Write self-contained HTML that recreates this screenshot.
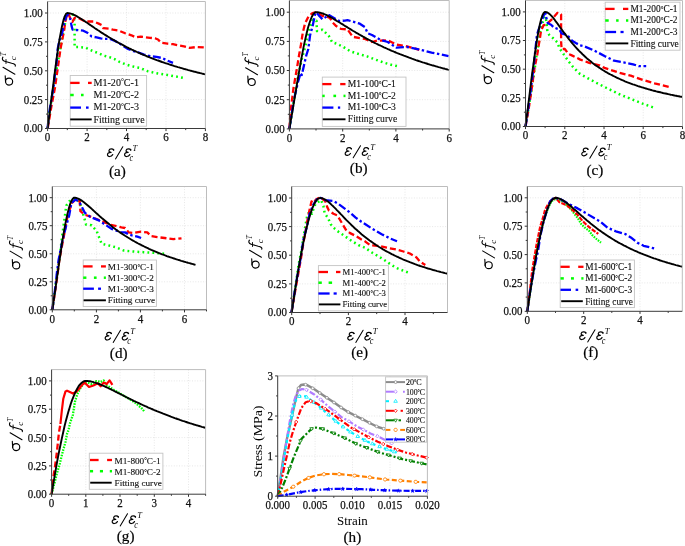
<!DOCTYPE html><html><head><meta charset="utf-8"><style>
html,body{margin:0;padding:0;background:#fff;}
svg{display:block;filter:blur(0.3px);}
text{font-family:"Liberation Serif",serif;fill:#000;}
.tl{font-size:11.9px;fill:#111;stroke:#111;stroke-width:0.25px;}
.pl{font-size:15.2px;stroke:#000;stroke-width:0.2px;}
.lab text{font-style:italic;}
.lt{fill:#111;stroke:#111;stroke-width:0.12px;}
.gd{stroke:#dcdcdc;stroke-width:0.7;stroke-dasharray:1 1.6;}
.fr{fill:none;stroke:#bdbdbd;stroke-width:1;}
.ax{fill:none;stroke:#3a3a3a;stroke-width:1;}
.tk{stroke:#333;stroke-width:1;}
.lg{fill:#fff;stroke:#c4c4c4;stroke-width:0.9;}
</style></head><body><svg width="685" height="546" viewBox="0 0 685 546"><line x1="87.1" y1="1.5" x2="87.1" y2="128.5" class="gd"/>
<line x1="126.5" y1="1.5" x2="126.5" y2="128.5" class="gd"/>
<line x1="166.0" y1="1.5" x2="166.0" y2="128.5" class="gd"/>
<line x1="47.6" y1="99.6" x2="205.4" y2="99.6" class="gd"/>
<line x1="47.6" y1="70.8" x2="205.4" y2="70.8" class="gd"/>
<line x1="47.6" y1="41.9" x2="205.4" y2="41.9" class="gd"/>
<line x1="47.6" y1="13.0" x2="205.4" y2="13.0" class="gd"/>
<polyline points="47.7,128.4 49.5,112.0 51.8,98.0 54.0,85.0 56.0,72.0 58.2,60.0 60.0,50.8 61.4,41.6 64.2,27.9 66.0,18.7 68.7,14.2 72.8,14.6 74.6,21.5 74.6,32.5 74.6,47.1 79.2,47.1 85.4,47.6 89.5,49.6 94.6,51.7 99.7,53.7 104.3,55.8 109.9,57.3 115.0,59.3 119.7,62.0 125.5,64.3 131.4,66.1 136.0,67.2 140.0,67.9 147.7,71.2 155.4,73.0 167.5,75.0 176.3,76.6 185.6,78.3" fill="none" stroke="#00ff00" stroke-width="2.5" stroke-dasharray="1.8 3.2" stroke-linejoin="round"/>
<polyline points="47.7,128.4 51.5,105.8 55.0,87.5 57.5,70.0 60.5,48.9 61.9,41.6 64.2,29.7 65.5,20.6 66.9,15.1 68.3,13.7 70.1,17.8 72.4,21.9 74.7,17.8 78.8,18.3 83.3,20.5 88.4,21.5 93.5,21.5 98.7,23.6 101.7,25.1 103.3,28.2 108.9,28.7 113.0,29.7 119.1,30.7 125.2,33.3 131.4,35.3 136.0,37.4 140.7,36.6 150.0,37.8 155.0,38.3 158.0,39.5 161.0,42.6 167.5,43.7 173.0,44.2 184.0,46.4 189.5,47.9 197.0,47.0 205.4,47.5" fill="none" stroke="#ff0000" stroke-width="2.3" stroke-dasharray="6 3" stroke-linejoin="round"/>
<polyline points="47.6,128.2 49.2,112.7 51.5,98.9 53.8,85.2 55.0,73.7 56.8,60.0 57.5,50.0 59.1,41.6 62.3,32.5 64.2,23.3 66.0,16.9 67.8,14.6 70.1,18.3 71.6,26.1 72.6,29.7 78.2,30.2 83.3,30.7 87.4,32.8 91.5,36.4 96.6,37.4 100.7,38.4 104.8,38.9 109.9,38.9 115.0,40.9 121.1,44.5 127.3,48.6 133.4,51.2 138.0,52.2 144.0,54.6 151.0,56.3 156.5,56.9 162.0,58.0 167.5,60.7 173.0,62.9" fill="none" stroke="#0000ff" stroke-width="2.3" stroke-dasharray="8 2.6 2.4 2.6" stroke-linejoin="round"/>
<polyline points="47.6,128.5 48.9,118.6 50.2,108.4 51.5,98.0 52.9,87.6 54.2,77.2 55.5,67.1 56.8,57.4 58.1,48.2 59.4,39.8 60.8,32.3 62.1,25.8 63.4,20.4 64.7,16.4 66.0,13.9 67.3,13.0 68.6,13.1 70.0,13.4 71.3,13.8 72.6,14.2 73.9,14.8 75.2,15.4 76.5,16.1 77.8,16.9 79.2,17.7 80.5,18.5 81.8,19.3 83.1,20.2 84.4,21.0 85.7,21.9 87.1,22.8 88.4,23.7 89.7,24.6 91.0,25.5 92.3,26.4 93.6,27.3 94.9,28.2 96.3,29.1 97.6,30.0 98.9,30.8 100.2,31.7 101.5,32.6 102.8,33.4 104.1,34.2 105.5,35.1 106.8,35.9 108.1,36.7 109.4,37.5 110.7,38.3 112.0,39.1 113.4,39.8 114.7,40.6 116.0,41.3 117.3,42.1 118.6,42.8 119.9,43.5 121.2,44.2 122.6,44.9 123.9,45.6 125.2,46.3 126.5,47.0 127.8,47.6 129.1,48.3 130.4,48.9 131.8,49.6 133.1,50.2 134.4,50.8 135.7,51.4 137.0,52.0 138.3,52.6 139.7,53.2 141.0,53.8 142.3,54.3 143.6,54.9 144.9,55.4 146.2,56.0 147.5,56.5 148.9,57.0 150.2,57.6 151.5,58.1 152.8,58.6 154.1,59.1 155.4,59.6 156.7,60.1 158.1,60.5 159.4,61.0 160.7,61.5 162.0,62.0 163.3,62.4 164.6,62.9 166.0,63.3 167.3,63.7 168.6,64.2 169.9,64.6 171.2,65.0 172.5,65.4 173.8,65.9 175.2,66.3 176.5,66.7 177.8,67.1 179.1,67.4 180.4,67.8 181.7,68.2 183.0,68.6 184.4,69.0 185.7,69.3 187.0,69.7 188.3,70.1 189.6,70.4 190.9,70.8 192.2,71.1 193.6,71.5 194.9,71.8 196.2,72.1 197.5,72.5 198.8,72.8 200.1,73.1 201.5,73.4 202.8,73.8 204.1,74.1 205.4,74.4" fill="none" stroke="#000000" stroke-width="1.9" stroke-linejoin="round"/>
<rect x="70.2" y="75.5" width="76.4" height="50.7" class="lg"/>
<line x1="70.2" y1="82.9" x2="79.6" y2="82.9" stroke="#ff0000" stroke-width="2.3"/>
<line x1="88.0" y1="82.9" x2="91.7" y2="82.9" stroke="#ff0000" stroke-width="2.3"/>
<text x="93.5" y="85.6" class="lt" font-size="10" textLength="45.5" lengthAdjust="spacingAndGlyphs">M1-20<tspan font-size="7.2" dy="-1.20">°</tspan><tspan dy="1.20">C-1</tspan></text>
<line x1="70.2" y1="95.0" x2="73.7" y2="95.0" stroke="#00ff00" stroke-width="2.5"/>
<line x1="81.0" y1="95.0" x2="83.6" y2="95.0" stroke="#00ff00" stroke-width="2.5"/>
<text x="93.5" y="98.0" class="lt" font-size="10" textLength="45.5" lengthAdjust="spacingAndGlyphs">M1-20<tspan font-size="7.2" dy="-1.20">°</tspan><tspan dy="1.20">C-2</tspan></text>
<line x1="70.2" y1="107.6" x2="81.0" y2="107.6" stroke="#0000ff" stroke-width="2.3"/>
<line x1="86.0" y1="107.6" x2="88.6" y2="107.6" stroke="#0000ff" stroke-width="2.3"/>
<text x="93.5" y="110.2" class="lt" font-size="10" textLength="45.5" lengthAdjust="spacingAndGlyphs">M1-20<tspan font-size="7.2" dy="-1.20">°</tspan><tspan dy="1.20">C-3</tspan></text>
<line x1="70.2" y1="119.4" x2="91.7" y2="119.4" stroke="#000000" stroke-width="1.9"/>
<text x="93.5" y="122.6" class="lt" font-size="10" textLength="51.2" lengthAdjust="spacingAndGlyphs">Fitting curve</text>
<path d="M47.6,1.5 H205.4 V128.5" class="fr"/>
<line x1="47.6" y1="128.5" x2="47.6" y2="131.1" class="tk"/>
<line x1="67.3" y1="128.5" x2="67.3" y2="130.1" class="tk"/>
<line x1="87.1" y1="128.5" x2="87.1" y2="131.1" class="tk"/>
<line x1="106.8" y1="128.5" x2="106.8" y2="130.1" class="tk"/>
<line x1="126.5" y1="128.5" x2="126.5" y2="131.1" class="tk"/>
<line x1="146.2" y1="128.5" x2="146.2" y2="130.1" class="tk"/>
<line x1="166.0" y1="128.5" x2="166.0" y2="131.1" class="tk"/>
<line x1="185.7" y1="128.5" x2="185.7" y2="130.1" class="tk"/>
<line x1="205.4" y1="128.5" x2="205.4" y2="131.1" class="tk"/>
<line x1="45.0" y1="128.5" x2="47.6" y2="128.5" class="tk"/>
<line x1="46.0" y1="114.1" x2="47.6" y2="114.1" class="tk"/>
<line x1="45.0" y1="99.6" x2="47.6" y2="99.6" class="tk"/>
<line x1="46.0" y1="85.2" x2="47.6" y2="85.2" class="tk"/>
<line x1="45.0" y1="70.8" x2="47.6" y2="70.8" class="tk"/>
<line x1="46.0" y1="56.3" x2="47.6" y2="56.3" class="tk"/>
<line x1="45.0" y1="41.9" x2="47.6" y2="41.9" class="tk"/>
<line x1="46.0" y1="27.5" x2="47.6" y2="27.5" class="tk"/>
<line x1="45.0" y1="13.0" x2="47.6" y2="13.0" class="tk"/>
<path d="M47.6,1.5 V128.5 H205.4" class="ax"/>
<text x="47.6" y="141.4" class="tl" text-anchor="middle" textLength="5.5" lengthAdjust="spacingAndGlyphs">0</text>
<text x="87.1" y="141.4" class="tl" text-anchor="middle" textLength="5.5" lengthAdjust="spacingAndGlyphs">2</text>
<text x="126.5" y="141.4" class="tl" text-anchor="middle" textLength="5.5" lengthAdjust="spacingAndGlyphs">4</text>
<text x="166.0" y="141.4" class="tl" text-anchor="middle" textLength="5.5" lengthAdjust="spacingAndGlyphs">6</text>
<text x="205.4" y="141.4" class="tl" text-anchor="middle" textLength="5.5" lengthAdjust="spacingAndGlyphs">8</text>
<text x="42.8" y="132.4" class="tl" text-anchor="end" textLength="19.1" lengthAdjust="spacingAndGlyphs">0.00</text>
<text x="42.8" y="103.5" class="tl" text-anchor="end" textLength="19.1" lengthAdjust="spacingAndGlyphs">0.25</text>
<text x="42.8" y="74.7" class="tl" text-anchor="end" textLength="19.1" lengthAdjust="spacingAndGlyphs">0.50</text>
<text x="42.8" y="45.8" class="tl" text-anchor="end" textLength="19.1" lengthAdjust="spacingAndGlyphs">0.75</text>
<text x="42.8" y="16.9" class="tl" text-anchor="end" textLength="19.1" lengthAdjust="spacingAndGlyphs">1.00</text>
<g class="lab"><path transform="translate(106.80,156.90)" d="M6.9,-7.0 C6.1,-8.4 2.7,-8.7 2.2,-6.6 C1.9,-5.2 3.0,-4.6 4.3,-4.6 M4.3,-4.6 C1.9,-4.7 0.4,-3.4 0.7,-1.7 C1.0,0.2 4.5,0.1 5.9,-2.3" fill="none" stroke="#000" stroke-width="1.2" stroke-linecap="round"/><circle cx="113.55" cy="149.90" r="0.75" fill="#000"/><line x1="115.50" y1="158.90" x2="122.80" y2="146.80" stroke="#000" stroke-width="1.05" stroke-linecap="round"/><path transform="translate(123.90,156.90)" d="M6.9,-7.0 C6.1,-8.4 2.7,-8.7 2.2,-6.6 C1.9,-5.2 3.0,-4.6 4.3,-4.6 M4.3,-4.6 C1.9,-4.7 0.4,-3.4 0.7,-1.7 C1.0,0.2 4.5,0.1 5.9,-2.3" fill="none" stroke="#000" stroke-width="1.2" stroke-linecap="round"/><circle cx="130.65" cy="149.90" r="0.75" fill="#000"/><g transform="translate(107.40,156.90)"><text transform="matrix(0.08202 0 0 0.10188 22.05 3.80)" font-size="100" font-style="italic">c</text><text transform="matrix(0.08367 0 0 0.07942 25.05 -6.30)" font-size="100" font-style="italic">T</text></g></g>
<g class="lab" transform="translate(12.90,85.50) rotate(-90)"><ellipse cx="3.9" cy="-3.8" rx="3.45" ry="3.55" fill="none" stroke="#000" stroke-width="1.15"/><path d="M3.6,-7.35 L9.8,-7.7" fill="none" stroke="#000" stroke-width="1.1" stroke-linecap="round"/><line x1="11.2" y1="2.0" x2="18.2" y2="-9.9" stroke="#000" stroke-width="1.05" stroke-linecap="round"/><path d="M19.4,2.3 C20.6,3.0 21.6,1.8 22.3,-1.2 L24.3,-8.3 C25.0,-10.6 26.6,-11.1 28.4,-10.0" fill="none" stroke="#000" stroke-width="1.1" stroke-linecap="round"/><path d="M21.6,-6.9 L26.4,-6.9" fill="none" stroke="#000" stroke-width="0.9"/><text transform="matrix(0.08948 0 0 0.08317 25.32 3.22)" font-size="100" font-style="italic">c</text><text transform="matrix(0.07275 0 0 0.08552 29.32 -7.20)" font-size="100" font-style="italic">T</text></g>
<text x="117.4" y="176.0" class="pl" text-anchor="middle">(a)</text>
<line x1="342.7" y1="0.5" x2="342.7" y2="128.9" class="gd"/>
<line x1="395.9" y1="0.5" x2="395.9" y2="128.9" class="gd"/>
<line x1="289.4" y1="99.7" x2="449.2" y2="99.7" class="gd"/>
<line x1="289.4" y1="70.5" x2="449.2" y2="70.5" class="gd"/>
<line x1="289.4" y1="41.4" x2="449.2" y2="41.4" class="gd"/>
<line x1="289.4" y1="12.2" x2="449.2" y2="12.2" class="gd"/>
<polyline points="289.4,128.6 293.0,106.0 297.0,82.0 301.5,60.0 305.1,47.1 307.4,37.0 309.7,27.9 312.9,19.7 316.5,20.6 317.0,31.1 322.5,29.7 328.9,36.1 332.1,42.1 337.1,43.9 343.5,47.1 350.4,51.3 358.1,53.8 367.0,56.4 375.5,59.6 382.6,62.2 391.3,64.8 399.2,66.6" fill="none" stroke="#00ff00" stroke-width="2.5" stroke-dasharray="1.8 3.2" stroke-linejoin="round"/>
<polyline points="289.4,128.6 290.5,112.0 293.5,88.0 297.2,66.7 299.1,55.0 301.0,44.4 302.8,32.5 305.1,23.3 308.7,16.0 312.4,13.2 315.6,12.3 318.8,13.7 322.5,16.0 326.1,16.4 329.8,17.8 332.5,22.4 336.2,26.1 340.8,28.8 347.5,29.4 352.8,36.8 365.0,38.9 372.0,42.0 377.3,40.6 387.8,40.3 396.6,44.7 405.3,45.9 414.1,48.2 419.3,49.9" fill="none" stroke="#ff0000" stroke-width="2.3" stroke-dasharray="6 3" stroke-linejoin="round"/>
<polyline points="289.4,128.6 292.0,112.0 295.0,95.0 298.0,82.0 300.6,73.0 301.8,75.0 303.0,69.7 304.5,63.0 306.4,55.0 308.3,49.0 310.1,35.2 312.4,27.0 313.8,20.6 315.1,14.2 316.5,12.3 319.3,16.0 322.5,19.2 326.1,16.9 328.9,15.1 333.5,17.8 339.0,21.0 345.0,20.6 347.5,20.1 359.8,23.7 365.0,27.2 367.7,33.3 372.0,35.0 380.8,40.0 387.8,42.0 396.6,47.7 407.1,47.0 417.6,49.1 431.6,52.6 448.6,56.1" fill="none" stroke="#0000ff" stroke-width="2.3" stroke-dasharray="8 2.6 2.4 2.6" stroke-linejoin="round"/>
<polyline points="289.4,128.9 290.7,121.2 292.1,113.3 293.4,105.4 294.7,97.3 296.1,89.3 297.4,81.4 298.7,73.6 300.1,66.0 301.4,58.6 302.7,51.6 304.0,44.9 305.4,38.7 306.7,33.0 308.0,27.8 309.4,23.3 310.7,19.5 312.0,16.4 313.4,14.1 314.7,12.7 316.0,12.2 317.4,12.2 318.7,12.4 320.0,12.7 321.4,13.1 322.7,13.5 324.0,14.0 325.4,14.6 326.7,15.2 328.0,15.9 329.3,16.6 330.7,17.3 332.0,18.0 333.3,18.8 334.7,19.6 336.0,20.4 337.3,21.2 338.7,22.0 340.0,22.8 341.3,23.6 342.7,24.4 344.0,25.3 345.3,26.1 346.7,26.9 348.0,27.7 349.3,28.5 350.7,29.4 352.0,30.2 353.3,31.0 354.7,31.8 356.0,32.6 357.3,33.3 358.6,34.1 360.0,34.9 361.3,35.6 362.6,36.4 364.0,37.1 365.3,37.9 366.6,38.6 368.0,39.3 369.3,40.0 370.6,40.7 372.0,41.4 373.3,42.1 374.6,42.8 376.0,43.5 377.3,44.1 378.6,44.8 380.0,45.4 381.3,46.0 382.6,46.7 383.9,47.3 385.3,47.9 386.6,48.5 387.9,49.1 389.3,49.7 390.6,50.3 391.9,50.9 393.3,51.4 394.6,52.0 395.9,52.5 397.3,53.1 398.6,53.6 399.9,54.2 401.3,54.7 402.6,55.2 403.9,55.7 405.3,56.2 406.6,56.7 407.9,57.2 409.2,57.7 410.6,58.2 411.9,58.7 413.2,59.1 414.6,59.6 415.9,60.1 417.2,60.5 418.6,61.0 419.9,61.4 421.2,61.8 422.6,62.3 423.9,62.7 425.2,63.1 426.6,63.5 427.9,64.0 429.2,64.4 430.6,64.8 431.9,65.2 433.2,65.5 434.6,65.9 435.9,66.3 437.2,66.7 438.5,67.1 439.9,67.4 441.2,67.8 442.5,68.2 443.9,68.5 445.2,68.9 446.5,69.2 447.9,69.6 449.2,69.9" fill="none" stroke="#000000" stroke-width="1.9" stroke-linejoin="round"/>
<rect x="322.3" y="77.1" width="83.7" height="49.3" class="lg"/>
<line x1="322.3" y1="84.1" x2="331.4" y2="84.1" stroke="#ff0000" stroke-width="2.3"/>
<line x1="340.2" y1="84.1" x2="345.5" y2="84.1" stroke="#ff0000" stroke-width="2.3"/>
<text x="347.8" y="87.0" class="lt" font-size="9.6" textLength="48.1" lengthAdjust="spacingAndGlyphs">M1-100<tspan font-size="6.9" dy="-1.15">°</tspan><tspan dy="1.15">C-1</tspan></text>
<line x1="322.3" y1="95.9" x2="324.7" y2="95.9" stroke="#00ff00" stroke-width="2.5"/>
<line x1="333.4" y1="95.9" x2="336.1" y2="95.9" stroke="#00ff00" stroke-width="2.5"/>
<line x1="343.5" y1="95.9" x2="345.5" y2="95.9" stroke="#00ff00" stroke-width="2.5"/>
<text x="347.8" y="98.5" class="lt" font-size="9.6" textLength="48.1" lengthAdjust="spacingAndGlyphs">M1-100<tspan font-size="6.9" dy="-1.15">°</tspan><tspan dy="1.15">C-2</tspan></text>
<line x1="322.3" y1="107.6" x2="333.4" y2="107.6" stroke="#0000ff" stroke-width="2.3"/>
<line x1="337.9" y1="107.6" x2="340.2" y2="107.6" stroke="#0000ff" stroke-width="2.3"/>
<text x="347.8" y="110.3" class="lt" font-size="9.6" textLength="48.1" lengthAdjust="spacingAndGlyphs">M1-100<tspan font-size="6.9" dy="-1.15">°</tspan><tspan dy="1.15">C-3</tspan></text>
<line x1="322.7" y1="119.3" x2="345.5" y2="119.3" stroke="#000000" stroke-width="1.9"/>
<text x="347.8" y="122.4" class="lt" font-size="9.6" textLength="49.4" lengthAdjust="spacingAndGlyphs">Fitting curve</text>
<path d="M289.4,0.5 H449.2 V128.9" class="fr"/>
<line x1="289.4" y1="128.9" x2="289.4" y2="131.5" class="tk"/>
<line x1="316.0" y1="128.9" x2="316.0" y2="130.5" class="tk"/>
<line x1="342.7" y1="128.9" x2="342.7" y2="131.5" class="tk"/>
<line x1="369.3" y1="128.9" x2="369.3" y2="130.5" class="tk"/>
<line x1="395.9" y1="128.9" x2="395.9" y2="131.5" class="tk"/>
<line x1="422.6" y1="128.9" x2="422.6" y2="130.5" class="tk"/>
<line x1="449.2" y1="128.9" x2="449.2" y2="131.5" class="tk"/>
<line x1="286.8" y1="128.9" x2="289.4" y2="128.9" class="tk"/>
<line x1="287.8" y1="114.3" x2="289.4" y2="114.3" class="tk"/>
<line x1="286.8" y1="99.7" x2="289.4" y2="99.7" class="tk"/>
<line x1="287.8" y1="85.1" x2="289.4" y2="85.1" class="tk"/>
<line x1="286.8" y1="70.5" x2="289.4" y2="70.5" class="tk"/>
<line x1="287.8" y1="55.9" x2="289.4" y2="55.9" class="tk"/>
<line x1="286.8" y1="41.4" x2="289.4" y2="41.4" class="tk"/>
<line x1="287.8" y1="26.8" x2="289.4" y2="26.8" class="tk"/>
<line x1="286.8" y1="12.2" x2="289.4" y2="12.2" class="tk"/>
<path d="M289.4,0.5 V128.9 H449.2" class="ax"/>
<text x="289.4" y="141.8" class="tl" text-anchor="middle" textLength="5.5" lengthAdjust="spacingAndGlyphs">0</text>
<text x="342.7" y="141.8" class="tl" text-anchor="middle" textLength="5.5" lengthAdjust="spacingAndGlyphs">2</text>
<text x="395.9" y="141.8" class="tl" text-anchor="middle" textLength="5.5" lengthAdjust="spacingAndGlyphs">4</text>
<text x="449.2" y="141.8" class="tl" text-anchor="middle" textLength="5.5" lengthAdjust="spacingAndGlyphs">6</text>
<text x="284.6" y="132.8" class="tl" text-anchor="end" textLength="19.1" lengthAdjust="spacingAndGlyphs">0.00</text>
<text x="284.6" y="103.6" class="tl" text-anchor="end" textLength="19.1" lengthAdjust="spacingAndGlyphs">0.25</text>
<text x="284.6" y="74.4" class="tl" text-anchor="end" textLength="19.1" lengthAdjust="spacingAndGlyphs">0.50</text>
<text x="284.6" y="45.3" class="tl" text-anchor="end" textLength="19.1" lengthAdjust="spacingAndGlyphs">0.75</text>
<text x="284.6" y="16.1" class="tl" text-anchor="end" textLength="19.1" lengthAdjust="spacingAndGlyphs">1.00</text>
<g class="lab"><path transform="translate(344.50,155.80)" d="M6.9,-7.0 C6.1,-8.4 2.7,-8.7 2.2,-6.6 C1.9,-5.2 3.0,-4.6 4.3,-4.6 M4.3,-4.6 C1.9,-4.7 0.4,-3.4 0.7,-1.7 C1.0,0.2 4.5,0.1 5.9,-2.3" fill="none" stroke="#000" stroke-width="1.2" stroke-linecap="round"/><circle cx="351.25" cy="148.80" r="0.75" fill="#000"/><line x1="353.20" y1="157.80" x2="360.50" y2="145.70" stroke="#000" stroke-width="1.05" stroke-linecap="round"/><path transform="translate(361.60,155.80)" d="M6.9,-7.0 C6.1,-8.4 2.7,-8.7 2.2,-6.6 C1.9,-5.2 3.0,-4.6 4.3,-4.6 M4.3,-4.6 C1.9,-4.7 0.4,-3.4 0.7,-1.7 C1.0,0.2 4.5,0.1 5.9,-2.3" fill="none" stroke="#000" stroke-width="1.2" stroke-linecap="round"/><circle cx="368.35" cy="148.80" r="0.75" fill="#000"/><g transform="translate(345.10,155.80)"><text transform="matrix(0.08202 0 0 0.10188 22.05 3.80)" font-size="100" font-style="italic">c</text><text transform="matrix(0.08367 0 0 0.07942 25.05 -6.30)" font-size="100" font-style="italic">T</text></g></g>
<g class="lab" transform="translate(255.50,85.90) rotate(-90)"><ellipse cx="3.9" cy="-3.8" rx="3.45" ry="3.55" fill="none" stroke="#000" stroke-width="1.15"/><path d="M3.6,-7.35 L9.8,-7.7" fill="none" stroke="#000" stroke-width="1.1" stroke-linecap="round"/><line x1="11.2" y1="2.0" x2="18.2" y2="-9.9" stroke="#000" stroke-width="1.05" stroke-linecap="round"/><path d="M19.4,2.3 C20.6,3.0 21.6,1.8 22.3,-1.2 L24.3,-8.3 C25.0,-10.6 26.6,-11.1 28.4,-10.0" fill="none" stroke="#000" stroke-width="1.1" stroke-linecap="round"/><path d="M21.6,-6.9 L26.4,-6.9" fill="none" stroke="#000" stroke-width="0.9"/><text transform="matrix(0.08948 0 0 0.08317 25.32 3.22)" font-size="100" font-style="italic">c</text><text transform="matrix(0.07275 0 0 0.08552 29.32 -7.20)" font-size="100" font-style="italic">T</text></g>
<text x="358.7" y="173.4" class="pl" text-anchor="middle">(b)</text>
<line x1="564.8" y1="0.4" x2="564.8" y2="126.5" class="gd"/>
<line x1="604.0" y1="0.4" x2="604.0" y2="126.5" class="gd"/>
<line x1="643.2" y1="0.4" x2="643.2" y2="126.5" class="gd"/>
<line x1="525.5" y1="97.8" x2="682.5" y2="97.8" class="gd"/>
<line x1="525.5" y1="69.2" x2="682.5" y2="69.2" class="gd"/>
<line x1="525.5" y1="40.5" x2="682.5" y2="40.5" class="gd"/>
<line x1="525.5" y1="11.9" x2="682.5" y2="11.9" class="gd"/>
<polyline points="525.5,126.5 528.5,108.0 531.5,90.0 534.5,70.0 536.9,52.6 538.7,43.5 540.5,29.3 543.5,20.0 545.5,16.5 546.5,22.4 547.4,31.6 549.2,34.8 552.9,38.0 557.5,42.5 559.3,48.0 562.5,52.6 568.7,61.5 573.8,67.9 580.0,74.0 595.0,82.1 604.5,86.9 618.8,94.0 630.7,98.8 642.6,103.6 655.7,108.3" fill="none" stroke="#00ff00" stroke-width="2.5" stroke-dasharray="1.8 3.2" stroke-linejoin="round"/>
<polyline points="525.5,126.5 528.5,110.0 531.5,90.0 534.5,68.0 537.3,54.5 538.7,45.3 540.1,37.0 541.0,30.6 543.7,25.1 546.0,24.7 551.5,19.7 554.7,16.0 557.5,12.8 561.1,14.2 561.1,24.2 561.1,41.6 561.6,49.0 564.8,49.0 568.5,54.0 571.3,55.1 580.3,59.6 589.2,62.8 599.5,65.4 604.5,67.9 618.8,72.6 630.7,75.7 642.6,79.8 654.5,83.3 668.8,86.9" fill="none" stroke="#ff0000" stroke-width="2.3" stroke-dasharray="6 3" stroke-linejoin="round"/>
<polyline points="525.5,126.5 528.0,110.0 531.0,88.0 533.5,68.0 535.0,53.5 536.9,35.2 538.7,29.3 541.0,23.3 543.7,15.1 545.6,13.2 546.5,18.7 547.9,23.3 551.1,24.7 553.8,27.4 557.5,28.8 559.3,29.3 561.6,33.4 564.8,34.3 568.5,36.6 572.1,40.7 575.8,43.0 580.0,45.3 584.1,46.2 594.4,50.6 604.5,56.0 614.0,60.7 623.6,62.4 633.1,64.3 639.0,66.2 646.2,66.2" fill="none" stroke="#0000ff" stroke-width="2.3" stroke-dasharray="8 2.6 2.4 2.6" stroke-linejoin="round"/>
<polyline points="525.5,126.5 526.8,116.4 528.1,106.0 529.4,95.5 530.7,85.0 532.0,74.7 533.4,64.7 534.7,55.1 536.0,46.1 537.3,37.9 538.6,30.5 539.9,24.2 541.2,19.0 542.5,15.1 543.8,12.7 545.1,11.9 546.4,12.1 547.7,12.7 549.0,13.6 550.4,14.8 551.7,16.2 553.0,17.7 554.3,19.3 555.6,21.1 556.9,22.8 558.2,24.6 559.5,26.5 560.8,28.3 562.1,30.1 563.4,31.9 564.8,33.7 566.1,35.4 567.4,37.1 568.7,38.8 570.0,40.5 571.3,42.1 572.6,43.7 573.9,45.2 575.2,46.7 576.5,48.1 577.8,49.5 579.1,50.9 580.5,52.2 581.8,53.5 583.1,54.8 584.4,56.0 585.7,57.2 587.0,58.4 588.3,59.5 589.6,60.6 590.9,61.6 592.2,62.7 593.5,63.7 594.8,64.7 596.1,65.6 597.5,66.5 598.8,67.4 600.1,68.3 601.4,69.1 602.7,70.0 604.0,70.8 605.3,71.6 606.6,72.3 607.9,73.1 609.2,73.8 610.5,74.5 611.9,75.2 613.2,75.9 614.5,76.5 615.8,77.2 617.1,77.8 618.4,78.4 619.7,79.0 621.0,79.6 622.3,80.2 623.6,80.7 624.9,81.3 626.2,81.8 627.5,82.3 628.9,82.8 630.2,83.3 631.5,83.8 632.8,84.3 634.1,84.7 635.4,85.2 636.7,85.6 638.0,86.1 639.3,86.5 640.6,86.9 641.9,87.3 643.2,87.7 644.6,88.1 645.9,88.5 647.2,88.9 648.5,89.3 649.8,89.6 651.1,90.0 652.4,90.4 653.7,90.7 655.0,91.0 656.3,91.4 657.6,91.7 659.0,92.0 660.3,92.3 661.6,92.6 662.9,93.0 664.2,93.3 665.5,93.5 666.8,93.8 668.1,94.1 669.4,94.4 670.7,94.7 672.0,94.9 673.3,95.2 674.6,95.5 676.0,95.7 677.3,96.0 678.6,96.2 679.9,96.5 681.2,96.7 682.5,96.9" fill="none" stroke="#000000" stroke-width="1.9" stroke-linejoin="round"/>
<rect x="605.2" y="2.2" width="74.8" height="48.0" class="lg"/>
<line x1="605.2" y1="8.9" x2="614.6" y2="8.9" stroke="#ff0000" stroke-width="2.3"/>
<line x1="623.0" y1="8.9" x2="628.3" y2="8.9" stroke="#ff0000" stroke-width="2.3"/>
<text x="630.4" y="12.0" class="lt" font-size="9.4" textLength="47.1" lengthAdjust="spacingAndGlyphs">M1-200<tspan font-size="6.8" dy="-1.13">°</tspan><tspan dy="1.13">C-1</tspan></text>
<line x1="605.2" y1="20.5" x2="608.7" y2="20.5" stroke="#00ff00" stroke-width="2.5"/>
<line x1="616.1" y1="20.5" x2="618.6" y2="20.5" stroke="#00ff00" stroke-width="2.5"/>
<line x1="626.0" y1="20.5" x2="628.3" y2="20.5" stroke="#00ff00" stroke-width="2.5"/>
<text x="630.4" y="23.2" class="lt" font-size="9.4" textLength="47.1" lengthAdjust="spacingAndGlyphs">M1-200<tspan font-size="6.8" dy="-1.13">°</tspan><tspan dy="1.13">C-2</tspan></text>
<line x1="605.2" y1="32.0" x2="616.1" y2="32.0" stroke="#0000ff" stroke-width="2.3"/>
<line x1="620.5" y1="32.0" x2="623.6" y2="32.0" stroke="#0000ff" stroke-width="2.3"/>
<text x="630.4" y="34.7" class="lt" font-size="9.4" textLength="47.1" lengthAdjust="spacingAndGlyphs">M1-200<tspan font-size="6.8" dy="-1.13">°</tspan><tspan dy="1.13">C-3</tspan></text>
<line x1="605.6" y1="43.4" x2="628.3" y2="43.4" stroke="#000000" stroke-width="1.9"/>
<text x="630.4" y="46.5" class="lt" font-size="9.4" textLength="48.4" lengthAdjust="spacingAndGlyphs">Fitting curve</text>
<path d="M525.5,0.4 H682.5 V126.5" class="fr"/>
<line x1="525.5" y1="126.5" x2="525.5" y2="129.1" class="tk"/>
<line x1="545.1" y1="126.5" x2="545.1" y2="128.1" class="tk"/>
<line x1="564.8" y1="126.5" x2="564.8" y2="129.1" class="tk"/>
<line x1="584.4" y1="126.5" x2="584.4" y2="128.1" class="tk"/>
<line x1="604.0" y1="126.5" x2="604.0" y2="129.1" class="tk"/>
<line x1="623.6" y1="126.5" x2="623.6" y2="128.1" class="tk"/>
<line x1="643.2" y1="126.5" x2="643.2" y2="129.1" class="tk"/>
<line x1="662.9" y1="126.5" x2="662.9" y2="128.1" class="tk"/>
<line x1="682.5" y1="126.5" x2="682.5" y2="129.1" class="tk"/>
<line x1="522.9" y1="126.5" x2="525.5" y2="126.5" class="tk"/>
<line x1="523.9" y1="112.2" x2="525.5" y2="112.2" class="tk"/>
<line x1="522.9" y1="97.8" x2="525.5" y2="97.8" class="tk"/>
<line x1="523.9" y1="83.5" x2="525.5" y2="83.5" class="tk"/>
<line x1="522.9" y1="69.2" x2="525.5" y2="69.2" class="tk"/>
<line x1="523.9" y1="54.9" x2="525.5" y2="54.9" class="tk"/>
<line x1="522.9" y1="40.5" x2="525.5" y2="40.5" class="tk"/>
<line x1="523.9" y1="26.2" x2="525.5" y2="26.2" class="tk"/>
<line x1="522.9" y1="11.9" x2="525.5" y2="11.9" class="tk"/>
<path d="M525.5,0.4 V126.5 H682.5" class="ax"/>
<text x="525.5" y="139.4" class="tl" text-anchor="middle" textLength="5.5" lengthAdjust="spacingAndGlyphs">0</text>
<text x="564.8" y="139.4" class="tl" text-anchor="middle" textLength="5.5" lengthAdjust="spacingAndGlyphs">2</text>
<text x="604.0" y="139.4" class="tl" text-anchor="middle" textLength="5.5" lengthAdjust="spacingAndGlyphs">4</text>
<text x="643.2" y="139.4" class="tl" text-anchor="middle" textLength="5.5" lengthAdjust="spacingAndGlyphs">6</text>
<text x="682.5" y="139.4" class="tl" text-anchor="middle" textLength="5.5" lengthAdjust="spacingAndGlyphs">8</text>
<text x="520.7" y="130.4" class="tl" text-anchor="end" textLength="19.1" lengthAdjust="spacingAndGlyphs">0.00</text>
<text x="520.7" y="101.7" class="tl" text-anchor="end" textLength="19.1" lengthAdjust="spacingAndGlyphs">0.25</text>
<text x="520.7" y="73.1" class="tl" text-anchor="end" textLength="19.1" lengthAdjust="spacingAndGlyphs">0.50</text>
<text x="520.7" y="44.4" class="tl" text-anchor="end" textLength="19.1" lengthAdjust="spacingAndGlyphs">0.75</text>
<text x="520.7" y="15.8" class="tl" text-anchor="end" textLength="19.1" lengthAdjust="spacingAndGlyphs">1.00</text>
<g class="lab"><path transform="translate(581.10,156.20)" d="M6.9,-7.0 C6.1,-8.4 2.7,-8.7 2.2,-6.6 C1.9,-5.2 3.0,-4.6 4.3,-4.6 M4.3,-4.6 C1.9,-4.7 0.4,-3.4 0.7,-1.7 C1.0,0.2 4.5,0.1 5.9,-2.3" fill="none" stroke="#000" stroke-width="1.2" stroke-linecap="round"/><circle cx="587.85" cy="149.20" r="0.75" fill="#000"/><line x1="589.80" y1="158.20" x2="597.10" y2="146.10" stroke="#000" stroke-width="1.05" stroke-linecap="round"/><path transform="translate(598.20,156.20)" d="M6.9,-7.0 C6.1,-8.4 2.7,-8.7 2.2,-6.6 C1.9,-5.2 3.0,-4.6 4.3,-4.6 M4.3,-4.6 C1.9,-4.7 0.4,-3.4 0.7,-1.7 C1.0,0.2 4.5,0.1 5.9,-2.3" fill="none" stroke="#000" stroke-width="1.2" stroke-linecap="round"/><circle cx="604.95" cy="149.20" r="0.75" fill="#000"/><g transform="translate(581.70,156.20)"><text transform="matrix(0.08202 0 0 0.10188 22.05 3.80)" font-size="100" font-style="italic">c</text><text transform="matrix(0.08367 0 0 0.07942 25.05 -6.30)" font-size="100" font-style="italic">T</text></g></g>
<g class="lab" transform="translate(491.80,84.00) rotate(-90)"><ellipse cx="3.9" cy="-3.8" rx="3.45" ry="3.55" fill="none" stroke="#000" stroke-width="1.15"/><path d="M3.6,-7.35 L9.8,-7.7" fill="none" stroke="#000" stroke-width="1.1" stroke-linecap="round"/><line x1="11.2" y1="2.0" x2="18.2" y2="-9.9" stroke="#000" stroke-width="1.05" stroke-linecap="round"/><path d="M19.4,2.3 C20.6,3.0 21.6,1.8 22.3,-1.2 L24.3,-8.3 C25.0,-10.6 26.6,-11.1 28.4,-10.0" fill="none" stroke="#000" stroke-width="1.1" stroke-linecap="round"/><path d="M21.6,-6.9 L26.4,-6.9" fill="none" stroke="#000" stroke-width="0.9"/><text transform="matrix(0.08948 0 0 0.08317 25.32 3.22)" font-size="100" font-style="italic">c</text><text transform="matrix(0.07275 0 0 0.08552 29.32 -7.20)" font-size="100" font-style="italic">T</text></g>
<text x="595.0" y="174.6" class="pl" text-anchor="middle">(c)</text>
<line x1="96.4" y1="186.5" x2="96.4" y2="309.8" class="gd"/>
<line x1="140.4" y1="186.5" x2="140.4" y2="309.8" class="gd"/>
<line x1="184.5" y1="186.5" x2="184.5" y2="309.8" class="gd"/>
<line x1="52.3" y1="281.8" x2="206.5" y2="281.8" class="gd"/>
<line x1="52.3" y1="253.8" x2="206.5" y2="253.8" class="gd"/>
<line x1="52.3" y1="225.7" x2="206.5" y2="225.7" class="gd"/>
<line x1="52.3" y1="197.7" x2="206.5" y2="197.7" class="gd"/>
<polyline points="52.3,309.8 55.0,290.0 57.5,272.0 59.3,260.0 62.1,236.6 64.2,221.1 66.3,205.6 69.2,201.3 76.2,198.5 79.7,202.7 84.0,216.9 86.1,224.6 91.7,225.3 96.7,231.0 98.8,236.6 101.6,243.7 107.2,245.1 115.7,247.2 124.2,250.7 134.9,251.6 143.6,252.2 153.5,252.8 164.1,253.7" fill="none" stroke="#00ff00" stroke-width="2.5" stroke-dasharray="1.8 3.2" stroke-linejoin="round"/>
<polyline points="52.3,309.8 55.0,292.0 57.5,275.0 59.3,260.0 63.5,238.0 67.7,215.4 72.0,202.7 76.2,199.2 79.7,201.3 80.4,211.2 84.7,214.7 93.1,217.6 101.6,221.1 110.1,224.6 121.4,227.4 125.0,228.0 128.7,232.4 133.7,233.0 141.1,231.7 147.3,232.4 151.1,236.1 157.3,237.1 164.7,238.0 173.4,239.2 181.5,238.3" fill="none" stroke="#ff0000" stroke-width="2.3" stroke-dasharray="6 3" stroke-linejoin="round"/>
<polyline points="52.3,309.8 55.0,290.0 57.0,272.0 58.6,260.0 62.1,242.2 66.3,225.3 69.2,215.4 71.3,203.5 75.5,199.2 79.7,202.7 84.7,212.6 90.3,216.9 98.8,220.4 111.5,228.8 121.4,232.4 125.0,232.4 130.0,234.9 137.4,236.7 141.1,238.0" fill="none" stroke="#0000ff" stroke-width="2.3" stroke-dasharray="8 2.6 2.4 2.6" stroke-linejoin="round"/>
<polyline points="52.3,309.8 53.5,301.8 54.7,293.6 55.9,285.3 57.1,276.9 58.3,268.6 59.5,260.4 60.7,252.4 61.8,244.6 63.0,237.2 64.2,230.2 65.4,223.7 66.6,217.7 67.8,212.4 69.0,207.7 70.2,203.9 71.4,200.9 72.6,198.9 73.8,197.8 75.0,197.7 76.2,197.9 77.4,198.3 78.6,198.8 79.7,199.4 80.9,200.1 82.1,200.9 83.3,201.8 84.5,202.7 85.7,203.7 86.9,204.7 88.1,205.7 89.3,206.8 90.5,207.8 91.7,208.9 92.9,210.0 94.1,211.1 95.3,212.2 96.4,213.3 97.6,214.3 98.8,215.4 100.0,216.5 101.2,217.5 102.4,218.6 103.6,219.6 104.8,220.6 106.0,221.6 107.2,222.6 108.4,223.6 109.6,224.6 110.8,225.5 112.0,226.4 113.2,227.4 114.3,228.3 115.5,229.2 116.7,230.0 117.9,230.9 119.1,231.8 120.3,232.6 121.5,233.4 122.7,234.2 123.9,235.0 125.1,235.8 126.3,236.5 127.5,237.3 128.7,238.0 129.9,238.7 131.1,239.5 132.2,240.2 133.4,240.8 134.6,241.5 135.8,242.2 137.0,242.8 138.2,243.5 139.4,244.1 140.6,244.7 141.8,245.3 143.0,245.9 144.2,246.5 145.4,247.1 146.6,247.7 147.8,248.2 149.0,248.8 150.1,249.3 151.3,249.9 152.5,250.4 153.7,250.9 154.9,251.4 156.1,251.9 157.3,252.4 158.5,252.9 159.7,253.3 160.9,253.8 162.1,254.3 163.3,254.7 164.5,255.2 165.7,255.6 166.8,256.1 168.0,256.5 169.2,256.9 170.4,257.3 171.6,257.7 172.8,258.1 174.0,258.5 175.2,258.9 176.4,259.3 177.6,259.7 178.8,260.0 180.0,260.4 181.2,260.8 182.4,261.1 183.6,261.5 184.7,261.8 185.9,262.2 187.1,262.5 188.3,262.9 189.5,263.2 190.7,263.5 191.9,263.8 193.1,264.1 194.3,264.5 195.5,264.8" fill="none" stroke="#000000" stroke-width="1.9" stroke-linejoin="round"/>
<rect x="83.2" y="260.0" width="73.2" height="46.5" class="lg"/>
<line x1="83.2" y1="266.4" x2="92.6" y2="266.4" stroke="#ff0000" stroke-width="2.3"/>
<line x1="101.0" y1="266.4" x2="105.9" y2="266.4" stroke="#ff0000" stroke-width="2.3"/>
<text x="107.8" y="269.9" class="lt" font-size="9.2" textLength="46.1" lengthAdjust="spacingAndGlyphs">M1-300<tspan font-size="6.6" dy="-1.10">°</tspan><tspan dy="1.10">C-1</tspan></text>
<line x1="83.2" y1="277.7" x2="86.4" y2="277.7" stroke="#00ff00" stroke-width="2.5"/>
<line x1="93.9" y1="277.7" x2="96.6" y2="277.7" stroke="#00ff00" stroke-width="2.5"/>
<line x1="103.8" y1="277.7" x2="105.9" y2="277.7" stroke="#00ff00" stroke-width="2.5"/>
<text x="107.8" y="280.7" class="lt" font-size="9.2" textLength="46.1" lengthAdjust="spacingAndGlyphs">M1-300<tspan font-size="6.6" dy="-1.10">°</tspan><tspan dy="1.10">C-2</tspan></text>
<line x1="83.2" y1="288.7" x2="93.9" y2="288.7" stroke="#0000ff" stroke-width="2.3"/>
<line x1="98.1" y1="288.7" x2="101.0" y2="288.7" stroke="#0000ff" stroke-width="2.3"/>
<text x="107.8" y="291.8" class="lt" font-size="9.2" textLength="46.1" lengthAdjust="spacingAndGlyphs">M1-300<tspan font-size="6.6" dy="-1.10">°</tspan><tspan dy="1.10">C-3</tspan></text>
<line x1="83.6" y1="300.3" x2="105.9" y2="300.3" stroke="#000000" stroke-width="1.9"/>
<text x="107.8" y="302.8" class="lt" font-size="9.2" textLength="47.4" lengthAdjust="spacingAndGlyphs">Fitting curve</text>
<path d="M52.3,186.5 H206.5 V309.8" class="fr"/>
<line x1="52.3" y1="309.8" x2="52.3" y2="312.4" class="tk"/>
<line x1="74.3" y1="309.8" x2="74.3" y2="311.4" class="tk"/>
<line x1="96.4" y1="309.8" x2="96.4" y2="312.4" class="tk"/>
<line x1="118.4" y1="309.8" x2="118.4" y2="311.4" class="tk"/>
<line x1="140.4" y1="309.8" x2="140.4" y2="312.4" class="tk"/>
<line x1="162.4" y1="309.8" x2="162.4" y2="311.4" class="tk"/>
<line x1="184.5" y1="309.8" x2="184.5" y2="312.4" class="tk"/>
<line x1="206.5" y1="309.8" x2="206.5" y2="311.4" class="tk"/>
<line x1="49.7" y1="309.8" x2="52.3" y2="309.8" class="tk"/>
<line x1="50.7" y1="295.8" x2="52.3" y2="295.8" class="tk"/>
<line x1="49.7" y1="281.8" x2="52.3" y2="281.8" class="tk"/>
<line x1="50.7" y1="267.8" x2="52.3" y2="267.8" class="tk"/>
<line x1="49.7" y1="253.8" x2="52.3" y2="253.8" class="tk"/>
<line x1="50.7" y1="239.7" x2="52.3" y2="239.7" class="tk"/>
<line x1="49.7" y1="225.7" x2="52.3" y2="225.7" class="tk"/>
<line x1="50.7" y1="211.7" x2="52.3" y2="211.7" class="tk"/>
<line x1="49.7" y1="197.7" x2="52.3" y2="197.7" class="tk"/>
<path d="M52.3,186.5 V309.8 H206.5" class="ax"/>
<text x="52.3" y="322.7" class="tl" text-anchor="middle" textLength="5.5" lengthAdjust="spacingAndGlyphs">0</text>
<text x="96.4" y="322.7" class="tl" text-anchor="middle" textLength="5.5" lengthAdjust="spacingAndGlyphs">2</text>
<text x="140.4" y="322.7" class="tl" text-anchor="middle" textLength="5.5" lengthAdjust="spacingAndGlyphs">4</text>
<text x="184.5" y="322.7" class="tl" text-anchor="middle" textLength="5.5" lengthAdjust="spacingAndGlyphs">6</text>
<text x="47.5" y="313.7" class="tl" text-anchor="end" textLength="19.1" lengthAdjust="spacingAndGlyphs">0.00</text>
<text x="47.5" y="285.7" class="tl" text-anchor="end" textLength="19.1" lengthAdjust="spacingAndGlyphs">0.25</text>
<text x="47.5" y="257.7" class="tl" text-anchor="end" textLength="19.1" lengthAdjust="spacingAndGlyphs">0.50</text>
<text x="47.5" y="229.6" class="tl" text-anchor="end" textLength="19.1" lengthAdjust="spacingAndGlyphs">0.75</text>
<text x="47.5" y="201.6" class="tl" text-anchor="end" textLength="19.1" lengthAdjust="spacingAndGlyphs">1.00</text>
<g class="lab"><path transform="translate(104.50,340.40)" d="M6.9,-7.0 C6.1,-8.4 2.7,-8.7 2.2,-6.6 C1.9,-5.2 3.0,-4.6 4.3,-4.6 M4.3,-4.6 C1.9,-4.7 0.4,-3.4 0.7,-1.7 C1.0,0.2 4.5,0.1 5.9,-2.3" fill="none" stroke="#000" stroke-width="1.2" stroke-linecap="round"/><circle cx="111.25" cy="333.40" r="0.75" fill="#000"/><line x1="113.20" y1="342.40" x2="120.50" y2="330.30" stroke="#000" stroke-width="1.05" stroke-linecap="round"/><path transform="translate(121.60,340.40)" d="M6.9,-7.0 C6.1,-8.4 2.7,-8.7 2.2,-6.6 C1.9,-5.2 3.0,-4.6 4.3,-4.6 M4.3,-4.6 C1.9,-4.7 0.4,-3.4 0.7,-1.7 C1.0,0.2 4.5,0.1 5.9,-2.3" fill="none" stroke="#000" stroke-width="1.2" stroke-linecap="round"/><circle cx="128.35" cy="333.40" r="0.75" fill="#000"/><g transform="translate(105.10,340.40)"><text transform="matrix(0.08202 0 0 0.10188 22.05 3.80)" font-size="100" font-style="italic">c</text><text transform="matrix(0.08367 0 0 0.07942 25.05 -6.30)" font-size="100" font-style="italic">T</text></g></g>
<g class="lab" transform="translate(20.00,269.30) rotate(-90)"><ellipse cx="3.9" cy="-3.8" rx="3.45" ry="3.55" fill="none" stroke="#000" stroke-width="1.15"/><path d="M3.6,-7.35 L9.8,-7.7" fill="none" stroke="#000" stroke-width="1.1" stroke-linecap="round"/><line x1="11.2" y1="2.0" x2="18.2" y2="-9.9" stroke="#000" stroke-width="1.05" stroke-linecap="round"/><path d="M19.4,2.3 C20.6,3.0 21.6,1.8 22.3,-1.2 L24.3,-8.3 C25.0,-10.6 26.6,-11.1 28.4,-10.0" fill="none" stroke="#000" stroke-width="1.1" stroke-linecap="round"/><path d="M21.6,-6.9 L26.4,-6.9" fill="none" stroke="#000" stroke-width="0.9"/><text transform="matrix(0.08948 0 0 0.08317 25.32 3.22)" font-size="100" font-style="italic">c</text><text transform="matrix(0.07275 0 0 0.08552 29.32 -7.20)" font-size="100" font-style="italic">T</text></g>
<text x="118.7" y="357.7" class="pl" text-anchor="middle">(d)</text>
<line x1="348.4" y1="186.5" x2="348.4" y2="312.5" class="gd"/>
<line x1="405.0" y1="186.5" x2="405.0" y2="312.5" class="gd"/>
<line x1="291.7" y1="283.9" x2="447.5" y2="283.9" class="gd"/>
<line x1="291.7" y1="255.2" x2="447.5" y2="255.2" class="gd"/>
<line x1="291.7" y1="226.6" x2="447.5" y2="226.6" class="gd"/>
<line x1="291.7" y1="198.0" x2="447.5" y2="198.0" class="gd"/>
<polyline points="291.5,312.2 295.0,290.0 298.5,265.0 301.5,250.0 303.2,239.4 304.6,230.3 306.0,222.5 307.4,214.7 310.1,211.1 311.9,213.8 313.8,207.8 315.6,203.7 321.1,200.1 323.4,206.0 324.7,213.3 328.0,217.9 330.7,224.3 333.4,227.5 337.4,231.0 344.4,235.9 351.5,240.8 358.5,245.1 365.0,247.7 371.4,252.2 377.8,256.0 384.2,259.9 390.6,264.4 397.0,268.2 403.5,270.8 408.6,272.7" fill="none" stroke="#00ff00" stroke-width="2.5" stroke-dasharray="1.8 3.2" stroke-linejoin="round"/>
<polyline points="291.5,312.2 294.5,295.0 297.5,278.0 300.7,260.0 303.5,242.2 305.1,234.0 307.8,218.4 309.2,211.5 311.5,201.4 313.5,203.0 316.0,199.5 319.5,197.4 322.0,198.5 325.2,201.0 327.0,206.5 328.9,210.6 333.4,213.8 337.4,215.4 341.6,222.5 345.8,229.6 350.1,233.1 355.7,235.9 361.4,239.4 365.0,241.3 370.1,245.1 377.8,245.8 386.8,247.7 395.8,249.4 403.5,251.5 409.9,253.5 416.3,257.3 420.1,261.8 425.3,265.0" fill="none" stroke="#ff0000" stroke-width="2.3" stroke-dasharray="6 3" stroke-linejoin="round"/>
<polyline points="291.5,312.2 294.5,293.0 297.5,275.0 300.7,257.8 303.5,239.4 306.9,226.6 309.6,213.8 313.3,204.6 317.0,199.2 320.4,197.8 325.2,200.1 333.4,201.0 338.8,204.2 344.4,208.4 350.1,212.6 355.7,217.6 361.4,221.8 365.0,224.0 372.7,229.1 381.7,234.2 390.6,238.7 397.0,241.3" fill="none" stroke="#0000ff" stroke-width="2.3" stroke-dasharray="8 2.6 2.4 2.6" stroke-linejoin="round"/>
<polyline points="291.7,312.5 293.0,303.7 294.3,295.1 295.6,286.7 296.9,278.6 298.2,270.7 299.5,263.1 300.8,255.9 302.1,249.0 303.4,242.4 304.7,236.2 306.0,230.4 307.3,225.0 308.6,220.0 309.9,215.5 311.2,211.4 312.5,207.9 313.8,204.8 315.1,202.3 316.4,200.4 317.7,199.0 319.0,198.2 320.3,198.0 321.6,198.1 322.9,198.5 324.2,199.1 325.5,199.8 326.8,200.7 328.1,201.6 329.4,202.7 330.6,203.8 331.9,205.1 333.2,206.3 334.5,207.6 335.8,208.9 337.1,210.3 338.4,211.6 339.7,213.0 341.0,214.4 342.3,215.7 343.6,217.1 344.9,218.5 346.2,219.8 347.5,221.1 348.8,222.4 350.1,223.7 351.4,225.0 352.7,226.2 354.0,227.5 355.3,228.7 356.6,229.8 357.9,231.0 359.2,232.1 360.5,233.3 361.8,234.4 363.1,235.4 364.4,236.5 365.7,237.5 367.0,238.5 368.3,239.5 369.6,240.5 370.9,241.4 372.2,242.3 373.5,243.2 374.8,244.1 376.1,245.0 377.4,245.8 378.7,246.7 380.0,247.5 381.3,248.3 382.6,249.1 383.9,249.8 385.2,250.6 386.5,251.3 387.8,252.0 389.1,252.7 390.4,253.4 391.7,254.1 393.0,254.7 394.3,255.4 395.6,256.0 396.9,256.6 398.2,257.2 399.5,257.8 400.8,258.4 402.1,259.0 403.4,259.6 404.7,260.1 406.0,260.6 407.3,261.2 408.6,261.7 409.8,262.2 411.1,262.7 412.4,263.2 413.7,263.7 415.0,264.2 416.3,264.6 417.6,265.1 418.9,265.5 420.2,266.0 421.5,266.4 422.8,266.8 424.1,267.2 425.4,267.7 426.7,268.1 428.0,268.5 429.3,268.8 430.6,269.2 431.9,269.6 433.2,270.0 434.5,270.3 435.8,270.7 437.1,271.1 438.4,271.4 439.7,271.7 441.0,272.1 442.3,272.4 443.6,272.7 444.9,273.1 446.2,273.4 447.5,273.7" fill="none" stroke="#000000" stroke-width="1.9" stroke-linejoin="round"/>
<rect x="318.4" y="265.6" width="70.0" height="45.3" class="lg"/>
<line x1="318.4" y1="272.0" x2="328.0" y2="272.0" stroke="#ff0000" stroke-width="2.3"/>
<line x1="336.0" y1="272.0" x2="340.4" y2="272.0" stroke="#ff0000" stroke-width="2.3"/>
<text x="342.5" y="275.1" class="lt" font-size="8.8" textLength="43.4" lengthAdjust="spacingAndGlyphs">M1-400<tspan font-size="6.3" dy="-1.06">°</tspan><tspan dy="1.06">C-1</tspan></text>
<line x1="318.4" y1="282.7" x2="321.8" y2="282.7" stroke="#00ff00" stroke-width="2.5"/>
<line x1="328.6" y1="282.7" x2="332.1" y2="282.7" stroke="#00ff00" stroke-width="2.5"/>
<text x="342.5" y="285.7" class="lt" font-size="8.8" textLength="43.4" lengthAdjust="spacingAndGlyphs">M1-400<tspan font-size="6.3" dy="-1.06">°</tspan><tspan dy="1.06">C-2</tspan></text>
<line x1="318.4" y1="293.5" x2="329.6" y2="293.5" stroke="#0000ff" stroke-width="2.3"/>
<line x1="333.6" y1="293.5" x2="336.7" y2="293.5" stroke="#0000ff" stroke-width="2.3"/>
<text x="342.5" y="296.2" class="lt" font-size="8.8" textLength="43.4" lengthAdjust="spacingAndGlyphs">M1-400<tspan font-size="6.3" dy="-1.06">°</tspan><tspan dy="1.06">C-3</tspan></text>
<line x1="318.9" y1="304.4" x2="340.4" y2="304.4" stroke="#000000" stroke-width="1.9"/>
<text x="342.5" y="307.1" class="lt" font-size="8.8" textLength="44.7" lengthAdjust="spacingAndGlyphs">Fitting curve</text>
<path d="M291.7,186.5 H447.5 V312.5" class="fr"/>
<line x1="291.7" y1="312.5" x2="291.7" y2="315.1" class="tk"/>
<line x1="320.0" y1="312.5" x2="320.0" y2="314.1" class="tk"/>
<line x1="348.4" y1="312.5" x2="348.4" y2="315.1" class="tk"/>
<line x1="376.7" y1="312.5" x2="376.7" y2="314.1" class="tk"/>
<line x1="405.0" y1="312.5" x2="405.0" y2="315.1" class="tk"/>
<line x1="433.3" y1="312.5" x2="433.3" y2="314.1" class="tk"/>
<line x1="289.1" y1="312.5" x2="291.7" y2="312.5" class="tk"/>
<line x1="290.1" y1="298.2" x2="291.7" y2="298.2" class="tk"/>
<line x1="289.1" y1="283.9" x2="291.7" y2="283.9" class="tk"/>
<line x1="290.1" y1="269.5" x2="291.7" y2="269.5" class="tk"/>
<line x1="289.1" y1="255.2" x2="291.7" y2="255.2" class="tk"/>
<line x1="290.1" y1="240.9" x2="291.7" y2="240.9" class="tk"/>
<line x1="289.1" y1="226.6" x2="291.7" y2="226.6" class="tk"/>
<line x1="290.1" y1="212.3" x2="291.7" y2="212.3" class="tk"/>
<line x1="289.1" y1="198.0" x2="291.7" y2="198.0" class="tk"/>
<path d="M291.7,186.5 V312.5 H447.5" class="ax"/>
<text x="291.7" y="325.4" class="tl" text-anchor="middle" textLength="5.5" lengthAdjust="spacingAndGlyphs">0</text>
<text x="348.4" y="325.4" class="tl" text-anchor="middle" textLength="5.5" lengthAdjust="spacingAndGlyphs">2</text>
<text x="405.0" y="325.4" class="tl" text-anchor="middle" textLength="5.5" lengthAdjust="spacingAndGlyphs">4</text>
<text x="286.9" y="316.4" class="tl" text-anchor="end" textLength="19.1" lengthAdjust="spacingAndGlyphs">0.00</text>
<text x="286.9" y="287.8" class="tl" text-anchor="end" textLength="19.1" lengthAdjust="spacingAndGlyphs">0.25</text>
<text x="286.9" y="259.1" class="tl" text-anchor="end" textLength="19.1" lengthAdjust="spacingAndGlyphs">0.50</text>
<text x="286.9" y="230.5" class="tl" text-anchor="end" textLength="19.1" lengthAdjust="spacingAndGlyphs">0.75</text>
<text x="286.9" y="201.9" class="tl" text-anchor="end" textLength="19.1" lengthAdjust="spacingAndGlyphs">1.00</text>
<g class="lab"><path transform="translate(347.10,340.40)" d="M6.9,-7.0 C6.1,-8.4 2.7,-8.7 2.2,-6.6 C1.9,-5.2 3.0,-4.6 4.3,-4.6 M4.3,-4.6 C1.9,-4.7 0.4,-3.4 0.7,-1.7 C1.0,0.2 4.5,0.1 5.9,-2.3" fill="none" stroke="#000" stroke-width="1.2" stroke-linecap="round"/><circle cx="353.85" cy="333.40" r="0.75" fill="#000"/><line x1="355.80" y1="342.40" x2="363.10" y2="330.30" stroke="#000" stroke-width="1.05" stroke-linecap="round"/><path transform="translate(364.20,340.40)" d="M6.9,-7.0 C6.1,-8.4 2.7,-8.7 2.2,-6.6 C1.9,-5.2 3.0,-4.6 4.3,-4.6 M4.3,-4.6 C1.9,-4.7 0.4,-3.4 0.7,-1.7 C1.0,0.2 4.5,0.1 5.9,-2.3" fill="none" stroke="#000" stroke-width="1.2" stroke-linecap="round"/><circle cx="370.95" cy="333.40" r="0.75" fill="#000"/><g transform="translate(347.70,340.40)"><text transform="matrix(0.08202 0 0 0.10188 22.05 3.80)" font-size="100" font-style="italic">c</text><text transform="matrix(0.08367 0 0 0.07942 25.05 -6.30)" font-size="100" font-style="italic">T</text></g></g>
<g class="lab" transform="translate(259.40,268.50) rotate(-90)"><ellipse cx="3.9" cy="-3.8" rx="3.45" ry="3.55" fill="none" stroke="#000" stroke-width="1.15"/><path d="M3.6,-7.35 L9.8,-7.7" fill="none" stroke="#000" stroke-width="1.1" stroke-linecap="round"/><line x1="11.2" y1="2.0" x2="18.2" y2="-9.9" stroke="#000" stroke-width="1.05" stroke-linecap="round"/><path d="M19.4,2.3 C20.6,3.0 21.6,1.8 22.3,-1.2 L24.3,-8.3 C25.0,-10.6 26.6,-11.1 28.4,-10.0" fill="none" stroke="#000" stroke-width="1.1" stroke-linecap="round"/><path d="M21.6,-6.9 L26.4,-6.9" fill="none" stroke="#000" stroke-width="0.9"/><text transform="matrix(0.08948 0 0 0.08317 25.32 3.22)" font-size="100" font-style="italic">c</text><text transform="matrix(0.07275 0 0 0.08552 29.32 -7.20)" font-size="100" font-style="italic">T</text></g>
<text x="359.7" y="356.7" class="pl" text-anchor="middle">(e)</text>
<line x1="583.7" y1="186.5" x2="583.7" y2="311.3" class="gd"/>
<line x1="640.0" y1="186.5" x2="640.0" y2="311.3" class="gd"/>
<line x1="527.3" y1="282.9" x2="682.3" y2="282.9" class="gd"/>
<line x1="527.3" y1="254.6" x2="682.3" y2="254.6" class="gd"/>
<line x1="527.3" y1="226.2" x2="682.3" y2="226.2" class="gd"/>
<line x1="527.3" y1="197.8" x2="682.3" y2="197.8" class="gd"/>
<polyline points="527.3,311.3 530.5,290.0 533.5,270.0 536.5,252.0 539.5,237.0 543.0,222.0 545.0,216.4 548.3,207.6 551.6,201.0 556.0,198.8 561.5,201.0 567.0,205.4 571.4,209.8 574.6,214.2 578.0,218.5 581.2,224.0 584.5,227.3 588.9,230.6 592.2,235.0 595.5,238.3 601.0,242.7" fill="none" stroke="#00ff00" stroke-width="2.2" stroke-dasharray="1.6 1.1" stroke-linejoin="round"/>
<polyline points="527.3,311.3 530.0,290.0 532.0,272.0 533.9,260.0 536.7,243.7 540.2,226.7 543.7,215.4 545.0,210.0 547.3,205.7 550.8,200.6 555.7,197.8 559.3,202.1 567.0,205.4 573.5,210.9 578.0,215.3 582.3,220.7 586.7,225.1 592.2,229.5 598.3,233.9" fill="none" stroke="#ff0000" stroke-width="2.2" stroke-dasharray="4.5 1.3" stroke-linejoin="round"/>
<polyline points="527.3,311.3 530.0,292.0 533.0,275.0 536.0,260.0 538.1,250.7 540.2,236.6 543.0,223.9 546.6,211.2 550.1,201.3 554.3,197.5 560.7,199.2 569.1,204.2 577.6,208.4 586.1,213.3 594.5,218.3 600.0,221.4 607.7,227.8 616.7,231.7 625.6,234.2 630.8,237.4 637.2,242.6 643.6,245.8 651.3,247.7 656.4,249.0" fill="none" stroke="#0000ff" stroke-width="2.3" stroke-dasharray="8 2.6 2.4 2.6" stroke-linejoin="round"/>
<polyline points="527.3,311.3 528.6,302.6 529.9,294.0 531.2,285.7 532.5,277.7 533.8,269.9 535.0,262.4 536.3,255.2 537.6,248.4 538.9,241.9 540.2,235.7 541.5,230.0 542.8,224.6 544.1,219.7 545.4,215.2 546.7,211.2 548.0,207.7 549.3,204.7 550.5,202.2 551.8,200.2 553.1,198.9 554.4,198.1 555.7,197.8 557.0,198.0 558.3,198.3 559.6,198.7 560.9,199.3 562.2,200.0 563.5,200.7 564.8,201.6 566.0,202.5 567.3,203.5 568.6,204.5 569.9,205.6 571.2,206.6 572.5,207.7 573.8,208.9 575.1,210.0 576.4,211.1 577.7,212.3 579.0,213.4 580.3,214.6 581.5,215.7 582.8,216.8 584.1,217.9 585.4,219.1 586.7,220.2 588.0,221.2 589.3,222.3 590.6,223.4 591.9,224.4 593.2,225.4 594.5,226.5 595.8,227.5 597.0,228.4 598.3,229.4 599.6,230.4 600.9,231.3 602.2,232.2 603.5,233.1 604.8,234.0 606.1,234.9 607.4,235.7 608.7,236.6 610.0,237.4 611.3,238.2 612.5,239.0 613.8,239.8 615.1,240.6 616.4,241.3 617.7,242.1 619.0,242.8 620.3,243.5 621.6,244.2 622.9,244.9 624.2,245.6 625.5,246.2 626.8,246.9 628.0,247.5 629.3,248.2 630.6,248.8 631.9,249.4 633.2,250.0 634.5,250.6 635.8,251.1 637.1,251.7 638.4,252.3 639.7,252.8 641.0,253.4 642.3,253.9 643.5,254.4 644.8,254.9 646.1,255.4 647.4,255.9 648.7,256.4 650.0,256.9 651.3,257.4 652.6,257.8 653.9,258.3 655.2,258.7 656.5,259.2 657.8,259.6 659.0,260.0 660.3,260.5 661.6,260.9 662.9,261.3 664.2,261.7 665.5,262.1 666.8,262.5 668.1,262.9 669.4,263.2 670.7,263.6 672.0,264.0 673.3,264.3 674.5,264.7 675.8,265.1 677.1,265.4 678.4,265.7 679.7,266.1 681.0,266.4 682.3,266.7" fill="none" stroke="#000000" stroke-width="1.9" stroke-linejoin="round"/>
<rect x="560.2" y="260.0" width="74.2" height="47.6" class="lg"/>
<line x1="560.5" y1="266.8" x2="569.7" y2="266.8" stroke="#ff0000" stroke-width="2.3"/>
<line x1="578.2" y1="266.8" x2="583.5" y2="266.8" stroke="#ff0000" stroke-width="2.3"/>
<text x="585.2" y="269.5" class="lt" font-size="9.3" textLength="46.9" lengthAdjust="spacingAndGlyphs">M1-600<tspan font-size="6.7" dy="-1.12">°</tspan><tspan dy="1.12">C-1</tspan></text>
<line x1="560.5" y1="278.4" x2="563.8" y2="278.4" stroke="#00ff00" stroke-width="2.5"/>
<line x1="571.0" y1="278.4" x2="573.9" y2="278.4" stroke="#00ff00" stroke-width="2.5"/>
<line x1="581.3" y1="278.4" x2="583.5" y2="278.4" stroke="#00ff00" stroke-width="2.5"/>
<text x="585.2" y="281.3" class="lt" font-size="9.3" textLength="46.9" lengthAdjust="spacingAndGlyphs">M1-600<tspan font-size="6.7" dy="-1.12">°</tspan><tspan dy="1.12">C-2</tspan></text>
<line x1="560.5" y1="289.8" x2="571.0" y2="289.8" stroke="#0000ff" stroke-width="2.3"/>
<line x1="575.6" y1="289.8" x2="578.2" y2="289.8" stroke="#0000ff" stroke-width="2.3"/>
<text x="585.2" y="292.8" class="lt" font-size="9.3" textLength="46.9" lengthAdjust="spacingAndGlyphs">M1-600<tspan font-size="6.7" dy="-1.12">°</tspan><tspan dy="1.12">C-3</tspan></text>
<line x1="561.2" y1="301.2" x2="582.8" y2="301.2" stroke="#000000" stroke-width="1.9"/>
<text x="585.2" y="304.7" class="lt" font-size="9.3" textLength="47.8" lengthAdjust="spacingAndGlyphs">Fitting curve</text>
<path d="M527.3,186.5 H682.3 V311.3" class="fr"/>
<line x1="527.3" y1="311.3" x2="527.3" y2="313.9" class="tk"/>
<line x1="555.5" y1="311.3" x2="555.5" y2="312.9" class="tk"/>
<line x1="583.7" y1="311.3" x2="583.7" y2="313.9" class="tk"/>
<line x1="611.8" y1="311.3" x2="611.8" y2="312.9" class="tk"/>
<line x1="640.0" y1="311.3" x2="640.0" y2="313.9" class="tk"/>
<line x1="668.2" y1="311.3" x2="668.2" y2="312.9" class="tk"/>
<line x1="524.7" y1="311.3" x2="527.3" y2="311.3" class="tk"/>
<line x1="525.7" y1="297.1" x2="527.3" y2="297.1" class="tk"/>
<line x1="524.7" y1="282.9" x2="527.3" y2="282.9" class="tk"/>
<line x1="525.7" y1="268.8" x2="527.3" y2="268.8" class="tk"/>
<line x1="524.7" y1="254.6" x2="527.3" y2="254.6" class="tk"/>
<line x1="525.7" y1="240.4" x2="527.3" y2="240.4" class="tk"/>
<line x1="524.7" y1="226.2" x2="527.3" y2="226.2" class="tk"/>
<line x1="525.7" y1="212.0" x2="527.3" y2="212.0" class="tk"/>
<line x1="524.7" y1="197.8" x2="527.3" y2="197.8" class="tk"/>
<path d="M527.3,186.5 V311.3 H682.3" class="ax"/>
<text x="527.3" y="324.2" class="tl" text-anchor="middle" textLength="5.5" lengthAdjust="spacingAndGlyphs">0</text>
<text x="583.7" y="324.2" class="tl" text-anchor="middle" textLength="5.5" lengthAdjust="spacingAndGlyphs">2</text>
<text x="640.0" y="324.2" class="tl" text-anchor="middle" textLength="5.5" lengthAdjust="spacingAndGlyphs">4</text>
<text x="522.5" y="315.2" class="tl" text-anchor="end" textLength="19.1" lengthAdjust="spacingAndGlyphs">0.00</text>
<text x="522.5" y="286.8" class="tl" text-anchor="end" textLength="19.1" lengthAdjust="spacingAndGlyphs">0.25</text>
<text x="522.5" y="258.5" class="tl" text-anchor="end" textLength="19.1" lengthAdjust="spacingAndGlyphs">0.50</text>
<text x="522.5" y="230.1" class="tl" text-anchor="end" textLength="19.1" lengthAdjust="spacingAndGlyphs">0.75</text>
<text x="522.5" y="201.7" class="tl" text-anchor="end" textLength="19.1" lengthAdjust="spacingAndGlyphs">1.00</text>
<g class="lab"><path transform="translate(579.00,339.90)" d="M6.9,-7.0 C6.1,-8.4 2.7,-8.7 2.2,-6.6 C1.9,-5.2 3.0,-4.6 4.3,-4.6 M4.3,-4.6 C1.9,-4.7 0.4,-3.4 0.7,-1.7 C1.0,0.2 4.5,0.1 5.9,-2.3" fill="none" stroke="#000" stroke-width="1.2" stroke-linecap="round"/><circle cx="585.75" cy="332.90" r="0.75" fill="#000"/><line x1="587.70" y1="341.90" x2="595.00" y2="329.80" stroke="#000" stroke-width="1.05" stroke-linecap="round"/><path transform="translate(596.10,339.90)" d="M6.9,-7.0 C6.1,-8.4 2.7,-8.7 2.2,-6.6 C1.9,-5.2 3.0,-4.6 4.3,-4.6 M4.3,-4.6 C1.9,-4.7 0.4,-3.4 0.7,-1.7 C1.0,0.2 4.5,0.1 5.9,-2.3" fill="none" stroke="#000" stroke-width="1.2" stroke-linecap="round"/><circle cx="602.85" cy="332.90" r="0.75" fill="#000"/><g transform="translate(579.60,339.90)"><text transform="matrix(0.08202 0 0 0.10188 22.05 3.80)" font-size="100" font-style="italic">c</text><text transform="matrix(0.08367 0 0 0.07942 25.05 -6.30)" font-size="100" font-style="italic">T</text></g></g>
<g class="lab" transform="translate(492.50,269.10) rotate(-90)"><ellipse cx="3.9" cy="-3.8" rx="3.45" ry="3.55" fill="none" stroke="#000" stroke-width="1.15"/><path d="M3.6,-7.35 L9.8,-7.7" fill="none" stroke="#000" stroke-width="1.1" stroke-linecap="round"/><line x1="11.2" y1="2.0" x2="18.2" y2="-9.9" stroke="#000" stroke-width="1.05" stroke-linecap="round"/><path d="M19.4,2.3 C20.6,3.0 21.6,1.8 22.3,-1.2 L24.3,-8.3 C25.0,-10.6 26.6,-11.1 28.4,-10.0" fill="none" stroke="#000" stroke-width="1.1" stroke-linecap="round"/><path d="M21.6,-6.9 L26.4,-6.9" fill="none" stroke="#000" stroke-width="0.9"/><text transform="matrix(0.08948 0 0 0.08317 25.32 3.22)" font-size="100" font-style="italic">c</text><text transform="matrix(0.07275 0 0 0.08552 29.32 -7.20)" font-size="100" font-style="italic">T</text></g>
<text x="590.8" y="356.7" class="pl" text-anchor="middle">(f)</text>
<line x1="85.8" y1="369.6" x2="85.8" y2="494.2" class="gd"/>
<line x1="120.0" y1="369.6" x2="120.0" y2="494.2" class="gd"/>
<line x1="154.3" y1="369.6" x2="154.3" y2="494.2" class="gd"/>
<line x1="188.5" y1="369.6" x2="188.5" y2="494.2" class="gd"/>
<line x1="51.6" y1="465.9" x2="205.6" y2="465.9" class="gd"/>
<line x1="51.6" y1="437.6" x2="205.6" y2="437.6" class="gd"/>
<line x1="51.6" y1="409.2" x2="205.6" y2="409.2" class="gd"/>
<line x1="51.6" y1="380.9" x2="205.6" y2="380.9" class="gd"/>
<polyline points="51.6,494.2 54.5,483.0 56.7,474.2 59.7,464.0 62.6,452.2 65.5,442.0 67.0,433.9 68.5,430.3 69.9,423.6 72.9,414.8 75.0,401.6 77.2,394.3 80.2,388.5 83.8,383.3 87.5,382.6 91.9,384.1 96.3,381.1 100.7,381.9 103.6,380.4 106.6,385.5 109.7,387.2 113.9,389.9 122.1,394.7 134.4,402.1 141.8,408.3 144.3,411.5" fill="none" stroke="#00ff00" stroke-width="2.3" stroke-dasharray="1.6 1.2" stroke-linejoin="round"/>
<polyline points="51.6,494.2 53.1,478.6 54.5,469.8 56.0,459.6 57.5,446.4 58.9,433.0 60.4,424.0" fill="none" stroke="#ff0000" stroke-width="2.3" stroke-dasharray="6 3" stroke-linejoin="round"/>
<polyline points="60.4,424.0 61.9,410.0 63.3,398.7 65.5,391.4 67.0,390.7 69.9,392.1 72.9,393.6 75.8,392.1 79.4,388.5 81.6,385.5 84.6,382.6 86.8,384.8 89.0,387.0 93.4,385.5 97.8,383.3 100.7,386.3 103.6,382.6 106.6,384.1 109.5,380.4 111.0,382.6 112.4,384.8" fill="none" stroke="#ff0000" stroke-width="2.2" stroke-linejoin="round"/>
<polyline points="51.6,494.2 52.9,486.3 54.2,478.6 55.5,471.2 56.7,464.0 58.0,457.1 59.3,450.5 60.6,444.2 61.9,438.1 63.2,432.3 64.4,426.8 65.7,421.6 67.0,416.7 68.3,412.1 69.6,407.8 70.8,403.8 72.1,400.1 73.4,396.8 74.7,393.7 76.0,391.0 77.3,388.5 78.5,386.4 79.8,384.7 81.1,383.3 82.4,382.2 83.7,381.4 85.0,381.0 86.2,380.9 87.5,381.0 88.8,381.1 90.1,381.3 91.4,381.6 92.7,381.9 94.0,382.3 95.2,382.6 96.5,383.1 97.8,383.5 99.1,384.0 100.4,384.5 101.7,385.1 102.9,385.6 104.2,386.2 105.5,386.8 106.8,387.4 108.1,388.0 109.3,388.6 110.6,389.2 111.9,389.9 113.2,390.5 114.5,391.2 115.8,391.8 117.1,392.4 118.3,393.1 119.6,393.7 120.9,394.4 122.2,395.0 123.5,395.7 124.8,396.3 126.0,397.0 127.3,397.6 128.6,398.3 129.9,398.9 131.2,399.5 132.4,400.1 133.7,400.8 135.0,401.4 136.3,402.0 137.6,402.6 138.9,403.2 140.2,403.8 141.4,404.4 142.7,405.0 144.0,405.6 145.3,406.2 146.6,406.7 147.8,407.3 149.1,407.9 150.4,408.4 151.7,409.0 153.0,409.5 154.3,410.1 155.6,410.6 156.8,411.2 158.1,411.7 159.4,412.2 160.7,412.7 162.0,413.2 163.2,413.7 164.5,414.2 165.8,414.7 167.1,415.2 168.4,415.7 169.7,416.2 170.9,416.7 172.2,417.2 173.5,417.6 174.8,418.1 176.1,418.5 177.4,419.0 178.7,419.4 179.9,419.9 181.2,420.3 182.5,420.8 183.8,421.2 185.1,421.6 186.3,422.0 187.6,422.5 188.9,422.9 190.2,423.3 191.5,423.7 192.8,424.1 194.0,424.5 195.3,424.9 196.6,425.3 197.9,425.6 199.2,426.0 200.5,426.4 201.8,426.8 203.0,427.1 204.3,427.5 205.6,427.9" fill="none" stroke="#000000" stroke-width="1.9" stroke-linejoin="round"/>
<rect x="89.3" y="453.2" width="73.6" height="36.1" class="lg"/>
<line x1="90.0" y1="460.0" x2="98.6" y2="460.0" stroke="#ff0000" stroke-width="2.3"/>
<line x1="107.1" y1="460.0" x2="112.0" y2="460.0" stroke="#ff0000" stroke-width="2.3"/>
<text x="114.5" y="463.5" class="lt" font-size="9.2" textLength="46.2" lengthAdjust="spacingAndGlyphs">M1-800<tspan font-size="6.6" dy="-1.10">°</tspan><tspan dy="1.10">C-1</tspan></text>
<line x1="90.0" y1="471.2" x2="93.1" y2="471.2" stroke="#00ff00" stroke-width="2.5"/>
<line x1="99.9" y1="471.2" x2="103.0" y2="471.2" stroke="#00ff00" stroke-width="2.5"/>
<line x1="109.8" y1="471.2" x2="112.0" y2="471.2" stroke="#00ff00" stroke-width="2.5"/>
<text x="114.5" y="474.7" class="lt" font-size="9.2" textLength="46.2" lengthAdjust="spacingAndGlyphs">M1-800<tspan font-size="6.6" dy="-1.10">°</tspan><tspan dy="1.10">C-2</tspan></text>
<line x1="90.2" y1="482.7" x2="111.7" y2="482.7" stroke="#000000" stroke-width="1.9"/>
<text x="114.5" y="485.8" class="lt" font-size="9.2" textLength="47.4" lengthAdjust="spacingAndGlyphs">Fitting curve</text>
<path d="M51.6,369.6 H205.6 V494.2" class="fr"/>
<line x1="51.6" y1="494.2" x2="51.6" y2="496.8" class="tk"/>
<line x1="68.7" y1="494.2" x2="68.7" y2="495.8" class="tk"/>
<line x1="85.8" y1="494.2" x2="85.8" y2="496.8" class="tk"/>
<line x1="102.9" y1="494.2" x2="102.9" y2="495.8" class="tk"/>
<line x1="120.0" y1="494.2" x2="120.0" y2="496.8" class="tk"/>
<line x1="137.2" y1="494.2" x2="137.2" y2="495.8" class="tk"/>
<line x1="154.3" y1="494.2" x2="154.3" y2="496.8" class="tk"/>
<line x1="171.4" y1="494.2" x2="171.4" y2="495.8" class="tk"/>
<line x1="188.5" y1="494.2" x2="188.5" y2="496.8" class="tk"/>
<line x1="205.6" y1="494.2" x2="205.6" y2="495.8" class="tk"/>
<line x1="49.0" y1="494.2" x2="51.6" y2="494.2" class="tk"/>
<line x1="50.0" y1="480.0" x2="51.6" y2="480.0" class="tk"/>
<line x1="49.0" y1="465.9" x2="51.6" y2="465.9" class="tk"/>
<line x1="50.0" y1="451.7" x2="51.6" y2="451.7" class="tk"/>
<line x1="49.0" y1="437.6" x2="51.6" y2="437.6" class="tk"/>
<line x1="50.0" y1="423.4" x2="51.6" y2="423.4" class="tk"/>
<line x1="49.0" y1="409.2" x2="51.6" y2="409.2" class="tk"/>
<line x1="50.0" y1="395.1" x2="51.6" y2="395.1" class="tk"/>
<line x1="49.0" y1="380.9" x2="51.6" y2="380.9" class="tk"/>
<path d="M51.6,369.6 V494.2 H205.6" class="ax"/>
<text x="51.6" y="507.1" class="tl" text-anchor="middle" textLength="5.5" lengthAdjust="spacingAndGlyphs">0</text>
<text x="85.8" y="507.1" class="tl" text-anchor="middle" textLength="5.5" lengthAdjust="spacingAndGlyphs">1</text>
<text x="120.0" y="507.1" class="tl" text-anchor="middle" textLength="5.5" lengthAdjust="spacingAndGlyphs">2</text>
<text x="154.3" y="507.1" class="tl" text-anchor="middle" textLength="5.5" lengthAdjust="spacingAndGlyphs">3</text>
<text x="188.5" y="507.1" class="tl" text-anchor="middle" textLength="5.5" lengthAdjust="spacingAndGlyphs">4</text>
<text x="46.8" y="498.1" class="tl" text-anchor="end" textLength="19.1" lengthAdjust="spacingAndGlyphs">0.00</text>
<text x="46.8" y="469.8" class="tl" text-anchor="end" textLength="19.1" lengthAdjust="spacingAndGlyphs">0.25</text>
<text x="46.8" y="441.5" class="tl" text-anchor="end" textLength="19.1" lengthAdjust="spacingAndGlyphs">0.50</text>
<text x="46.8" y="413.1" class="tl" text-anchor="end" textLength="19.1" lengthAdjust="spacingAndGlyphs">0.75</text>
<text x="46.8" y="384.8" class="tl" text-anchor="end" textLength="19.1" lengthAdjust="spacingAndGlyphs">1.00</text>
<g class="lab"><path transform="translate(111.50,523.90)" d="M6.9,-7.0 C6.1,-8.4 2.7,-8.7 2.2,-6.6 C1.9,-5.2 3.0,-4.6 4.3,-4.6 M4.3,-4.6 C1.9,-4.7 0.4,-3.4 0.7,-1.7 C1.0,0.2 4.5,0.1 5.9,-2.3" fill="none" stroke="#000" stroke-width="1.2" stroke-linecap="round"/><circle cx="118.25" cy="516.90" r="0.75" fill="#000"/><line x1="120.20" y1="525.90" x2="127.50" y2="513.80" stroke="#000" stroke-width="1.05" stroke-linecap="round"/><path transform="translate(128.60,523.90)" d="M6.9,-7.0 C6.1,-8.4 2.7,-8.7 2.2,-6.6 C1.9,-5.2 3.0,-4.6 4.3,-4.6 M4.3,-4.6 C1.9,-4.7 0.4,-3.4 0.7,-1.7 C1.0,0.2 4.5,0.1 5.9,-2.3" fill="none" stroke="#000" stroke-width="1.2" stroke-linecap="round"/><circle cx="135.35" cy="516.90" r="0.75" fill="#000"/><g transform="translate(112.10,523.90)"><text transform="matrix(0.08202 0 0 0.10188 22.05 3.80)" font-size="100" font-style="italic">c</text><text transform="matrix(0.08367 0 0 0.07942 25.05 -6.30)" font-size="100" font-style="italic">T</text></g></g>
<g class="lab" transform="translate(20.00,451.00) rotate(-90)"><ellipse cx="3.9" cy="-3.8" rx="3.45" ry="3.55" fill="none" stroke="#000" stroke-width="1.15"/><path d="M3.6,-7.35 L9.8,-7.7" fill="none" stroke="#000" stroke-width="1.1" stroke-linecap="round"/><line x1="11.2" y1="2.0" x2="18.2" y2="-9.9" stroke="#000" stroke-width="1.05" stroke-linecap="round"/><path d="M19.4,2.3 C20.6,3.0 21.6,1.8 22.3,-1.2 L24.3,-8.3 C25.0,-10.6 26.6,-11.1 28.4,-10.0" fill="none" stroke="#000" stroke-width="1.1" stroke-linecap="round"/><path d="M21.6,-6.9 L26.4,-6.9" fill="none" stroke="#000" stroke-width="0.9"/><text transform="matrix(0.08948 0 0 0.08317 25.32 3.22)" font-size="100" font-style="italic">c</text><text transform="matrix(0.07275 0 0 0.08552 29.32 -7.20)" font-size="100" font-style="italic">T</text></g>
<text x="125.6" y="540.8" class="pl" text-anchor="middle">(g)</text>
<line x1="315.1" y1="375.9" x2="315.1" y2="496.2" class="gd"/>
<line x1="352.5" y1="375.9" x2="352.5" y2="496.2" class="gd"/>
<line x1="390.0" y1="375.9" x2="390.0" y2="496.2" class="gd"/>
<line x1="277.7" y1="456.1" x2="427.4" y2="456.1" class="gd"/>
<line x1="277.7" y1="416.0" x2="427.4" y2="416.0" class="gd"/>
<polyline points="277.7,496.2 280.8,475.7 283.5,457.0 287.3,437.0 291.4,419.0 295.3,401.0 298.3,388.5 301.0,385.0 304.0,384.5 306.6,384.9 313.7,388.8 320.9,393.7 328.0,398.5 335.2,403.3 341.8,408.0 348.9,412.4 356.4,416.2 363.8,419.9 371.2,423.7 377.8,427.0 385.2,429.1 395.0,433.0" fill="none" stroke="#8c8c8c" stroke-width="2.4" stroke-linejoin="round"/>
<circle cx="298.5" cy="388.2" r="1.4" fill="#fff" stroke="#8c8c8c" stroke-width="0.8"/>
<circle cx="305.6" cy="384.7" r="1.4" fill="#fff" stroke="#8c8c8c" stroke-width="0.8"/>
<circle cx="312.7" cy="388.3" r="1.4" fill="#fff" stroke="#8c8c8c" stroke-width="0.8"/>
<circle cx="319.8" cy="393.0" r="1.4" fill="#fff" stroke="#8c8c8c" stroke-width="0.8"/>
<circle cx="326.9" cy="397.8" r="1.4" fill="#fff" stroke="#8c8c8c" stroke-width="0.8"/>
<circle cx="334.0" cy="402.5" r="1.4" fill="#fff" stroke="#8c8c8c" stroke-width="0.8"/>
<circle cx="341.1" cy="407.5" r="1.4" fill="#fff" stroke="#8c8c8c" stroke-width="0.8"/>
<circle cx="348.2" cy="412.0" r="1.4" fill="#fff" stroke="#8c8c8c" stroke-width="0.8"/>
<circle cx="355.3" cy="415.6" r="1.4" fill="#fff" stroke="#8c8c8c" stroke-width="0.8"/>
<circle cx="362.4" cy="419.2" r="1.4" fill="#fff" stroke="#8c8c8c" stroke-width="0.8"/>
<circle cx="369.5" cy="422.8" r="1.4" fill="#fff" stroke="#8c8c8c" stroke-width="0.8"/>
<circle cx="376.6" cy="426.4" r="1.4" fill="#fff" stroke="#8c8c8c" stroke-width="0.8"/>
<circle cx="383.7" cy="428.7" r="1.4" fill="#fff" stroke="#8c8c8c" stroke-width="0.8"/>
<circle cx="390.8" cy="431.3" r="1.4" fill="#fff" stroke="#8c8c8c" stroke-width="0.8"/>
<polyline points="277.7,496.2 281.0,476.0 284.0,457.0 287.0,438.0 290.0,420.0 293.0,405.0 296.0,395.0 299.1,390.5 302.0,389.0 306.4,389.8 313.8,394.2 320.4,399.3 327.7,405.9 335.0,411.8 341.5,417.1 348.9,421.2 356.4,426.1 363.0,429.4 370.4,433.5 377.0,436.0 385.2,440.1 392.0,443.5" fill="none" stroke="#b07cff" stroke-width="2.2" stroke-dasharray="6 2 2 2" stroke-linejoin="round"/>
<polygon points="306.4,388.1 308.1,389.8 306.4,391.5 304.7,389.8" fill="#fff" stroke="#b07cff" stroke-width="0.8"/>
<polygon points="320.6,397.8 322.3,399.5 320.6,401.2 318.9,399.5" fill="#fff" stroke="#b07cff" stroke-width="0.8"/>
<polygon points="334.8,409.9 336.5,411.6 334.8,413.3 333.1,411.6" fill="#fff" stroke="#b07cff" stroke-width="0.8"/>
<polygon points="349.0,419.6 350.7,421.3 349.0,423.0 347.3,421.3" fill="#fff" stroke="#b07cff" stroke-width="0.8"/>
<polygon points="363.2,427.8 364.9,429.5 363.2,431.2 361.5,429.5" fill="#fff" stroke="#b07cff" stroke-width="0.8"/>
<polygon points="377.4,434.5 379.1,436.2 377.4,437.9 375.7,436.2" fill="#fff" stroke="#b07cff" stroke-width="0.8"/>
<polygon points="391.6,441.6 393.3,443.3 391.6,445.0 389.9,443.3" fill="#fff" stroke="#b07cff" stroke-width="0.8"/>
<polyline points="277.7,496.2 281.0,477.0 284.0,459.0 287.0,441.0 290.0,425.0 293.0,410.0 296.0,400.0 299.1,396.4 302.0,395.5 305.7,396.4 313.0,401.5 320.4,407.4 327.7,414.0 335.0,420.5 342.4,426.3 349.5,431.3 356.4,435.6 363.0,439.3 369.5,442.6 377.8,445.9 384.4,448.4 391.8,450.8 396.7,452.5" fill="none" stroke="#00eeff" stroke-width="2.2" stroke-dasharray="3 3" stroke-linejoin="round"/>
<polygon points="292.0,413.1 293.8,416.1 290.2,416.1" fill="#fff" stroke="#00eeff" stroke-width="0.8"/>
<polygon points="299.3,394.5 301.1,397.5 297.5,397.5" fill="#fff" stroke="#00eeff" stroke-width="0.8"/>
<polygon points="306.6,395.2 308.4,398.2 304.8,398.2" fill="#fff" stroke="#00eeff" stroke-width="0.8"/>
<polygon points="313.9,400.3 315.7,403.3 312.1,403.3" fill="#fff" stroke="#00eeff" stroke-width="0.8"/>
<polygon points="321.2,406.3 323.0,409.2 319.4,409.2" fill="#fff" stroke="#00eeff" stroke-width="0.8"/>
<polygon points="328.5,412.8 330.3,415.8 326.7,415.8" fill="#fff" stroke="#00eeff" stroke-width="0.8"/>
<polygon points="335.8,419.3 337.6,422.2 334.0,422.2" fill="#fff" stroke="#00eeff" stroke-width="0.8"/>
<polygon points="343.1,424.9 344.9,427.9 341.3,427.9" fill="#fff" stroke="#00eeff" stroke-width="0.8"/>
<polygon points="350.4,430.0 352.2,433.0 348.6,433.0" fill="#fff" stroke="#00eeff" stroke-width="0.8"/>
<polygon points="357.7,434.5 359.5,437.5 355.9,437.5" fill="#fff" stroke="#00eeff" stroke-width="0.8"/>
<polygon points="365.0,438.4 366.8,441.4 363.2,441.4" fill="#fff" stroke="#00eeff" stroke-width="0.8"/>
<polygon points="372.3,441.8 374.1,444.8 370.5,444.8" fill="#fff" stroke="#00eeff" stroke-width="0.8"/>
<polygon points="379.6,444.7 381.4,447.7 377.8,447.7" fill="#fff" stroke="#00eeff" stroke-width="0.8"/>
<polygon points="386.9,447.3 388.7,450.3 385.1,450.3" fill="#fff" stroke="#00eeff" stroke-width="0.8"/>
<polygon points="394.2,449.8 396.0,452.8 392.4,452.8" fill="#fff" stroke="#00eeff" stroke-width="0.8"/>
<polyline points="277.7,496.2 280.8,483.0 283.7,469.8 286.7,456.6 289.6,443.0 292.5,433.0 296.2,422.0 301.3,408.1 305.7,402.2 310.1,400.8 316.0,403.0 324.0,408.1 330.6,412.5 339.9,419.5 351.4,427.8 360.5,432.7 369.5,437.7 377.8,441.8 387.7,445.9 395.9,449.2 405.8,452.5 415.7,455.0 425.6,457.4 427.4,457.8" fill="none" stroke="#ff0000" stroke-width="2.2" stroke-dasharray="6 2 2 2" stroke-linejoin="round"/>
<polygon points="296.2,420.3 297.9,422.0 296.2,423.7 294.5,422.0" fill="#fff" stroke="#ff0000" stroke-width="0.8"/>
<polygon points="310.7,399.3 312.4,401.0 310.7,402.7 309.0,401.0" fill="#fff" stroke="#ff0000" stroke-width="0.8"/>
<polygon points="325.2,407.2 326.9,408.9 325.2,410.6 323.5,408.9" fill="#fff" stroke="#ff0000" stroke-width="0.8"/>
<polygon points="339.7,417.6 341.4,419.3 339.7,421.0 338.0,419.3" fill="#fff" stroke="#ff0000" stroke-width="0.8"/>
<polygon points="354.2,427.6 355.9,429.3 354.2,431.0 352.5,429.3" fill="#fff" stroke="#ff0000" stroke-width="0.8"/>
<polygon points="368.7,435.6 370.4,437.3 368.7,439.0 367.0,437.3" fill="#fff" stroke="#ff0000" stroke-width="0.8"/>
<polygon points="383.2,442.3 384.9,444.0 383.2,445.7 381.5,444.0" fill="#fff" stroke="#ff0000" stroke-width="0.8"/>
<polygon points="397.7,448.1 399.4,449.8 397.7,451.5 396.0,449.8" fill="#fff" stroke="#ff0000" stroke-width="0.8"/>
<polygon points="412.2,452.4 413.9,454.1 412.2,455.8 410.5,454.1" fill="#fff" stroke="#ff0000" stroke-width="0.8"/>
<polygon points="426.7,455.9 428.4,457.6 426.7,459.3 425.0,457.6" fill="#fff" stroke="#ff0000" stroke-width="0.8"/>
<polyline points="277.7,496.2 282.3,487.4 285.9,478.6 289.6,468.4 294.0,456.6 297.7,447.9 301.3,439.1 306.4,433.9 311.6,428.8 316.0,427.6 322.6,428.8 329.2,431.6 335.0,433.8 345.5,438.4 357.2,444.3 368.7,448.4 379.4,452.5 391.0,455.8 402.5,459.1 413.2,461.5 424.7,464.0 427.4,464.6" fill="none" stroke="#008000" stroke-width="2.2" stroke-dasharray="6 2 2 2" stroke-linejoin="round"/>
<polygon points="289.6,470.3 291.4,467.3 287.8,467.3" fill="#fff" stroke="#008000" stroke-width="0.8"/>
<polygon points="300.6,442.7 302.4,439.7 298.8,439.7" fill="#fff" stroke="#008000" stroke-width="0.8"/>
<polygon points="311.6,430.7 313.4,427.7 309.8,427.7" fill="#fff" stroke="#008000" stroke-width="0.8"/>
<polygon points="322.6,430.7 324.4,427.7 320.8,427.7" fill="#fff" stroke="#008000" stroke-width="0.8"/>
<polygon points="333.6,435.1 335.4,432.1 331.8,432.1" fill="#fff" stroke="#008000" stroke-width="0.8"/>
<polygon points="344.6,439.9 346.4,436.9 342.8,436.9" fill="#fff" stroke="#008000" stroke-width="0.8"/>
<polygon points="355.6,445.4 357.4,442.4 353.8,442.4" fill="#fff" stroke="#008000" stroke-width="0.8"/>
<polygon points="366.6,449.5 368.4,446.5 364.8,446.5" fill="#fff" stroke="#008000" stroke-width="0.8"/>
<polygon points="377.6,453.7 379.4,450.7 375.8,450.7" fill="#fff" stroke="#008000" stroke-width="0.8"/>
<polygon points="388.6,457.0 390.4,454.0 386.8,454.0" fill="#fff" stroke="#008000" stroke-width="0.8"/>
<polygon points="399.6,460.1 401.4,457.1 397.8,457.1" fill="#fff" stroke="#008000" stroke-width="0.8"/>
<polygon points="410.6,462.8 412.4,459.8 408.8,459.8" fill="#fff" stroke="#008000" stroke-width="0.8"/>
<polygon points="421.6,465.2 423.4,462.2 419.8,462.2" fill="#fff" stroke="#008000" stroke-width="0.8"/>
<polyline points="277.7,496.2 283.7,491.8 293.3,486.7 301.3,481.6 308.6,477.9 316.0,475.4 324.0,474.2 332.1,473.9 339.4,474.2 348.2,475.0 355.6,475.7 362.0,476.4 371.4,477.6 385.7,479.5 401.2,480.7 416.7,481.9 427.4,482.4" fill="none" stroke="#ff8000" stroke-width="2.2" stroke-dasharray="5 2.5" stroke-linejoin="round"/>
<polygon points="295.1,486.7 294.2,488.2 292.4,488.2 291.5,486.7 292.4,485.2 294.2,485.2" fill="#fff" stroke="#ff8000" stroke-width="0.8"/>
<polygon points="310.4,477.9 309.5,479.4 307.7,479.4 306.8,477.9 307.7,476.4 309.5,476.4" fill="#fff" stroke="#ff8000" stroke-width="0.8"/>
<polygon points="325.7,474.2 324.8,475.8 323.0,475.8 322.1,474.2 323.0,472.7 324.8,472.7" fill="#fff" stroke="#ff8000" stroke-width="0.8"/>
<polygon points="341.0,474.2 340.1,475.7 338.3,475.7 337.4,474.2 338.3,472.6 340.1,472.6" fill="#fff" stroke="#ff8000" stroke-width="0.8"/>
<polygon points="356.3,475.6 355.4,477.1 353.6,477.1 352.7,475.6 353.6,474.1 355.4,474.1" fill="#fff" stroke="#ff8000" stroke-width="0.8"/>
<polygon points="371.6,477.4 370.7,478.9 368.9,478.9 368.0,477.4 368.9,475.8 370.7,475.8" fill="#fff" stroke="#ff8000" stroke-width="0.8"/>
<polygon points="386.9,479.4 386.0,481.0 384.2,481.0 383.3,479.4 384.2,477.9 386.0,477.9" fill="#fff" stroke="#ff8000" stroke-width="0.8"/>
<polygon points="402.2,480.6 401.3,482.2 399.5,482.2 398.6,480.6 399.5,479.1 401.3,479.1" fill="#fff" stroke="#ff8000" stroke-width="0.8"/>
<polygon points="417.5,481.8 416.6,483.4 414.8,483.4 413.9,481.8 414.8,480.3 416.6,480.3" fill="#fff" stroke="#ff8000" stroke-width="0.8"/>
<polyline points="277.7,496.2 286.7,494.8 297.7,492.6 310.1,490.7 321.8,489.6 333.6,488.9 345.3,488.9 362.0,489.2 373.8,489.8 397.6,490.7 427.4,491.0" fill="none" stroke="#0000ff" stroke-width="2.2" stroke-dasharray="6 2 1.5 2" stroke-linejoin="round"/>
<polygon points="286.7,492.8 287.2,494.1 288.6,494.2 287.5,495.1 287.8,496.4 286.7,495.7 285.6,496.4 285.9,495.1 284.8,494.2 286.2,494.1" fill="#0000ff" stroke="#0000ff" stroke-width="0.5"/>
<polygon points="300.7,490.2 301.2,491.5 302.6,491.5 301.5,492.4 301.8,493.7 300.7,493.0 299.6,493.7 299.9,492.4 298.8,491.5 300.2,491.5" fill="#0000ff" stroke="#0000ff" stroke-width="0.5"/>
<polygon points="314.7,488.3 315.2,489.6 316.6,489.7 315.5,490.5 315.8,491.8 314.7,491.1 313.6,491.8 313.9,490.5 312.8,489.7 314.2,489.6" fill="#0000ff" stroke="#0000ff" stroke-width="0.5"/>
<polygon points="328.7,487.2 329.2,488.5 330.6,488.6 329.5,489.5 329.8,490.8 328.7,490.0 327.6,490.8 327.9,489.5 326.8,488.6 328.2,488.5" fill="#0000ff" stroke="#0000ff" stroke-width="0.5"/>
<polygon points="342.7,486.9 343.2,488.2 344.6,488.3 343.5,489.2 343.8,490.5 342.7,489.8 341.6,490.5 341.9,489.2 340.8,488.3 342.2,488.2" fill="#0000ff" stroke="#0000ff" stroke-width="0.5"/>
<polygon points="356.7,487.1 357.2,488.4 358.6,488.5 357.5,489.4 357.8,490.7 356.7,490.0 355.6,490.7 355.9,489.4 354.8,488.5 356.2,488.4" fill="#0000ff" stroke="#0000ff" stroke-width="0.5"/>
<polygon points="370.7,487.7 371.2,489.0 372.6,489.0 371.5,489.9 371.8,491.2 370.7,490.5 369.6,491.2 369.9,489.9 368.8,489.0 370.2,489.0" fill="#0000ff" stroke="#0000ff" stroke-width="0.5"/>
<polygon points="384.7,488.3 385.2,489.5 386.6,489.6 385.5,490.5 385.8,491.8 384.7,491.1 383.6,491.8 383.9,490.5 382.8,489.6 384.2,489.5" fill="#0000ff" stroke="#0000ff" stroke-width="0.5"/>
<polygon points="398.7,488.8 399.2,490.0 400.6,490.1 399.5,491.0 399.8,492.3 398.7,491.6 397.6,492.3 397.9,491.0 396.8,490.1 398.2,490.0" fill="#0000ff" stroke="#0000ff" stroke-width="0.5"/>
<polygon points="412.7,488.9 413.2,490.2 414.6,490.2 413.5,491.1 413.8,492.4 412.7,491.7 411.6,492.4 411.9,491.1 410.8,490.2 412.2,490.2" fill="#0000ff" stroke="#0000ff" stroke-width="0.5"/>
<polygon points="426.7,489.0 427.2,490.3 428.6,490.4 427.5,491.3 427.8,492.6 426.7,491.8 425.6,492.6 425.9,491.3 424.8,490.4 426.2,490.3" fill="#0000ff" stroke="#0000ff" stroke-width="0.5"/>
<rect x="385.6" y="376.9" width="41" height="65.3" class="lg"/>
<line x1="385.8" y1="382.1" x2="405.0" y2="382.1" stroke="#8c8c8c" stroke-width="2"/>
<circle cx="395.6" cy="382.1" r="1.4" fill="#fff" stroke="#8c8c8c" stroke-width="0.8"/>
<text x="405.9" y="384.9" class="lt" font-size="7.8" textLength="15.8" lengthAdjust="spacingAndGlyphs">20<tspan font-size="5.6" dy="-0.94">°</tspan><tspan dy="0.94">C</tspan></text>
<line x1="385.8" y1="391.7" x2="393.9" y2="391.7" stroke="#b07cff" stroke-width="2"/>
<line x1="403.0" y1="391.7" x2="404.8" y2="391.7" stroke="#b07cff" stroke-width="2"/>
<polygon points="395.6,390.0 397.3,391.7 395.6,393.4 393.9,391.7" fill="#fff" stroke="#b07cff" stroke-width="0.8"/>
<text x="405.9" y="394.5" class="lt" font-size="7.8" textLength="19.1" lengthAdjust="spacingAndGlyphs">100<tspan font-size="5.6" dy="-0.94">°</tspan><tspan dy="0.94">C</tspan></text>
<line x1="385.8" y1="401.2" x2="389.0" y2="401.2" stroke="#00eeff" stroke-width="2"/>
<polygon points="395.6,399.3 397.4,402.3 393.8,402.3" fill="#fff" stroke="#00eeff" stroke-width="0.8"/>
<text x="405.9" y="404.0" class="lt" font-size="7.8" textLength="19.1" lengthAdjust="spacingAndGlyphs">200<tspan font-size="5.6" dy="-0.94">°</tspan><tspan dy="0.94">C</tspan></text>
<line x1="385.8" y1="410.8" x2="393.9" y2="410.8" stroke="#ff0000" stroke-width="2"/>
<line x1="400.6" y1="410.8" x2="402.9" y2="410.8" stroke="#ff0000" stroke-width="2"/>
<polygon points="395.6,409.1 397.3,410.8 395.6,412.4 393.9,410.8" fill="#fff" stroke="#ff0000" stroke-width="0.8"/>
<text x="405.9" y="413.6" class="lt" font-size="7.8" textLength="19.1" lengthAdjust="spacingAndGlyphs">300<tspan font-size="5.6" dy="-0.94">°</tspan><tspan dy="0.94">C</tspan></text>
<line x1="385.8" y1="420.3" x2="393.9" y2="420.3" stroke="#008000" stroke-width="2"/>
<line x1="398.5" y1="420.3" x2="401.0" y2="420.3" stroke="#008000" stroke-width="2"/>
<polygon points="395.6,422.2 397.4,419.2 393.8,419.2" fill="#fff" stroke="#008000" stroke-width="0.8"/>
<text x="405.9" y="423.1" class="lt" font-size="7.8" textLength="19.1" lengthAdjust="spacingAndGlyphs">400<tspan font-size="5.6" dy="-0.94">°</tspan><tspan dy="0.94">C</tspan></text>
<line x1="385.8" y1="429.9" x2="390.4" y2="429.9" stroke="#ff8000" stroke-width="2"/>
<line x1="400.2" y1="429.9" x2="405.0" y2="429.9" stroke="#ff8000" stroke-width="2"/>
<polygon points="397.4,429.9 396.5,431.4 394.7,431.4 393.8,429.9 394.7,428.3 396.5,428.3" fill="#fff" stroke="#ff8000" stroke-width="0.8"/>
<text x="405.9" y="432.7" class="lt" font-size="7.8" textLength="19.1" lengthAdjust="spacingAndGlyphs">600<tspan font-size="5.6" dy="-0.94">°</tspan><tspan dy="0.94">C</tspan></text>
<line x1="385.8" y1="439.4" x2="393.2" y2="439.4" stroke="#0000ff" stroke-width="2"/>
<line x1="396.7" y1="439.4" x2="405.0" y2="439.4" stroke="#0000ff" stroke-width="2"/>
<polygon points="395.6,437.4 396.1,438.7 397.5,438.8 396.4,439.7 396.7,441.0 395.6,440.3 394.5,441.0 394.8,439.7 393.7,438.8 395.1,438.7" fill="#0000ff" stroke="#0000ff" stroke-width="0.5"/>
<text x="405.9" y="442.2" class="lt" font-size="7.8" textLength="19.1" lengthAdjust="spacingAndGlyphs">800<tspan font-size="5.6" dy="-0.94">°</tspan><tspan dy="0.94">C</tspan></text>
<path d="M277.7,375.9 H427.4 V496.2" class="fr"/>
<line x1="277.7" y1="496.2" x2="277.7" y2="498.8" class="tk"/>
<line x1="296.4" y1="496.2" x2="296.4" y2="497.8" class="tk"/>
<line x1="315.1" y1="496.2" x2="315.1" y2="498.8" class="tk"/>
<line x1="333.8" y1="496.2" x2="333.8" y2="497.8" class="tk"/>
<line x1="352.5" y1="496.2" x2="352.5" y2="498.8" class="tk"/>
<line x1="371.3" y1="496.2" x2="371.3" y2="497.8" class="tk"/>
<line x1="390.0" y1="496.2" x2="390.0" y2="498.8" class="tk"/>
<line x1="408.7" y1="496.2" x2="408.7" y2="497.8" class="tk"/>
<line x1="427.4" y1="496.2" x2="427.4" y2="498.8" class="tk"/>
<line x1="275.1" y1="496.2" x2="277.7" y2="496.2" class="tk"/>
<line x1="276.1" y1="476.1" x2="277.7" y2="476.1" class="tk"/>
<line x1="275.1" y1="456.1" x2="277.7" y2="456.1" class="tk"/>
<line x1="276.1" y1="436.0" x2="277.7" y2="436.0" class="tk"/>
<line x1="275.1" y1="416.0" x2="277.7" y2="416.0" class="tk"/>
<line x1="276.1" y1="395.9" x2="277.7" y2="395.9" class="tk"/>
<line x1="275.1" y1="375.9" x2="277.7" y2="375.9" class="tk"/>
<path d="M277.7,375.9 V496.2 H427.4" class="ax"/>
<text x="277.7" y="509.1" class="tl" text-anchor="middle" textLength="24.5" lengthAdjust="spacingAndGlyphs">0.000</text>
<text x="315.1" y="509.1" class="tl" text-anchor="middle" textLength="24.5" lengthAdjust="spacingAndGlyphs">0.005</text>
<text x="352.5" y="509.1" class="tl" text-anchor="middle" textLength="24.5" lengthAdjust="spacingAndGlyphs">0.010</text>
<text x="390.0" y="509.1" class="tl" text-anchor="middle" textLength="24.5" lengthAdjust="spacingAndGlyphs">0.015</text>
<text x="427.4" y="509.1" class="tl" text-anchor="middle" textLength="24.5" lengthAdjust="spacingAndGlyphs">0.020</text>
<text x="272.9" y="500.1" class="tl" text-anchor="end" textLength="5.5" lengthAdjust="spacingAndGlyphs">0</text>
<text x="272.9" y="460.0" class="tl" text-anchor="end" textLength="5.5" lengthAdjust="spacingAndGlyphs">1</text>
<text x="272.9" y="419.9" class="tl" text-anchor="end" textLength="5.5" lengthAdjust="spacingAndGlyphs">2</text>
<text x="272.9" y="379.8" class="tl" text-anchor="end" textLength="5.5" lengthAdjust="spacingAndGlyphs">3</text>
<text transform="translate(261.5,477.5) rotate(-90)" font-size="11.5" textLength="72" lengthAdjust="spacingAndGlyphs">Stress (MPa)</text>
<text x="352.4" y="525" font-size="12.9" text-anchor="middle">Strain</text>
<text x="352.4" y="541.6" class="pl" text-anchor="middle">(h)</text></svg></body></html>
